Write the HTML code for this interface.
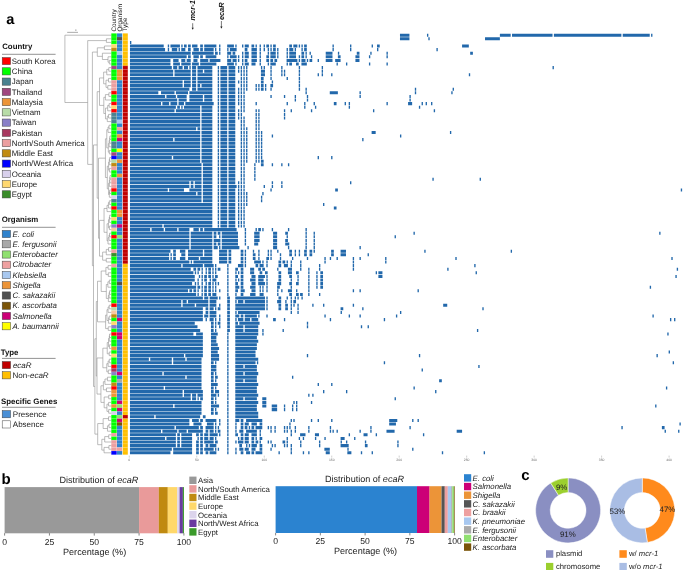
<!DOCTYPE html>
<html><head><meta charset="utf-8"><style>
html,body{margin:0;padding:0;background:#fff;width:685px;height:570px;overflow:hidden}
svg{display:block;will-change:transform;text-rendering:geometricPrecision}
</style></head><body>
<svg width="685" height="570" viewBox="0 0 685 570" font-family="'Liberation Sans', sans-serif">
<rect width="685" height="570" fill="#fff"/>
<text x="6.20" y="23.80" font-size="14.6" font-weight="bold" font-style="normal" text-anchor="start" fill="#000" >a</text>
<text x="1.60" y="483.60" font-size="15" font-weight="bold" font-style="normal" text-anchor="start" fill="#000" >b</text>
<text x="521.30" y="479.60" font-size="15" font-weight="bold" font-style="normal" text-anchor="start" fill="#000" >c</text>
<text x="2.20" y="49.40" font-size="7.85" font-weight="bold" font-style="normal" text-anchor="start" fill="#111" >Country</text>
<line x1="2" y1="54.3" x2="55.6" y2="54.3" stroke="#777" stroke-width="0.8"/>
<rect x="2.20" y="57.50" width="8.40" height="7.20" fill="#ff0000" stroke="#444" stroke-width="0.5"/>
<text x="11.80" y="63.80" font-size="7.9" font-weight="normal" font-style="normal" text-anchor="start" fill="#1a1a1a" >South Korea</text>
<rect x="2.20" y="67.75" width="8.40" height="7.20" fill="#00ff00" stroke="#444" stroke-width="0.5"/>
<text x="11.80" y="74.05" font-size="7.9" font-weight="normal" font-style="normal" text-anchor="start" fill="#1a1a1a" >China</text>
<rect x="2.20" y="78.00" width="8.40" height="7.20" fill="#4a8290" stroke="#444" stroke-width="0.5"/>
<text x="11.80" y="84.30" font-size="7.9" font-weight="normal" font-style="normal" text-anchor="start" fill="#1a1a1a" >Japan</text>
<rect x="2.20" y="88.25" width="8.40" height="7.20" fill="#a0477f" stroke="#444" stroke-width="0.5"/>
<text x="11.80" y="94.55" font-size="7.9" font-weight="normal" font-style="normal" text-anchor="start" fill="#1a1a1a" >Thailand</text>
<rect x="2.20" y="98.50" width="8.40" height="7.20" fill="#ec9438" stroke="#444" stroke-width="0.5"/>
<text x="11.80" y="104.80" font-size="7.9" font-weight="normal" font-style="normal" text-anchor="start" fill="#1a1a1a" >Malaysia</text>
<rect x="2.20" y="108.75" width="8.40" height="7.20" fill="#b8dca8" stroke="#444" stroke-width="0.5"/>
<text x="11.80" y="115.05" font-size="7.9" font-weight="normal" font-style="normal" text-anchor="start" fill="#1a1a1a" >Vietnam</text>
<rect x="2.20" y="119.00" width="8.40" height="7.20" fill="#8a80c8" stroke="#444" stroke-width="0.5"/>
<text x="11.80" y="125.30" font-size="7.9" font-weight="normal" font-style="normal" text-anchor="start" fill="#1a1a1a" >Taiwan</text>
<rect x="2.20" y="129.25" width="8.40" height="7.20" fill="#a8385f" stroke="#444" stroke-width="0.5"/>
<text x="11.80" y="135.55" font-size="7.9" font-weight="normal" font-style="normal" text-anchor="start" fill="#1a1a1a" >Pakistan</text>
<rect x="2.20" y="139.50" width="8.40" height="7.20" fill="#ec9fa0" stroke="#444" stroke-width="0.5"/>
<text x="11.80" y="145.80" font-size="7.9" font-weight="normal" font-style="normal" text-anchor="start" fill="#1a1a1a" >North/South America</text>
<rect x="2.20" y="149.75" width="8.40" height="7.20" fill="#c08a10" stroke="#444" stroke-width="0.5"/>
<text x="11.80" y="156.05" font-size="7.9" font-weight="normal" font-style="normal" text-anchor="start" fill="#1a1a1a" >Middle East</text>
<rect x="2.20" y="160.00" width="8.40" height="7.20" fill="#0000ff" stroke="#444" stroke-width="0.5"/>
<text x="11.80" y="166.30" font-size="7.9" font-weight="normal" font-style="normal" text-anchor="start" fill="#1a1a1a" >North/West Africa</text>
<rect x="2.20" y="170.25" width="8.40" height="7.20" fill="#d8d0ec" stroke="#444" stroke-width="0.5"/>
<text x="11.80" y="176.55" font-size="7.9" font-weight="normal" font-style="normal" text-anchor="start" fill="#1a1a1a" >Oceania</text>
<rect x="2.20" y="180.50" width="8.40" height="7.20" fill="#ffd870" stroke="#444" stroke-width="0.5"/>
<text x="11.80" y="186.80" font-size="7.9" font-weight="normal" font-style="normal" text-anchor="start" fill="#1a1a1a" >Europe</text>
<rect x="2.20" y="190.75" width="8.40" height="7.20" fill="#3a8c2a" stroke="#444" stroke-width="0.5"/>
<text x="11.80" y="197.05" font-size="7.9" font-weight="normal" font-style="normal" text-anchor="start" fill="#1a1a1a" >Egypt</text>
<text x="1.70" y="222.20" font-size="7.85" font-weight="bold" font-style="normal" text-anchor="start" fill="#111" >Organism</text>
<line x1="2" y1="227.3" x2="55.6" y2="227.3" stroke="#777" stroke-width="0.8"/>
<rect x="2.20" y="230.40" width="8.40" height="7.20" fill="#2f82cc" stroke="#444" stroke-width="0.5"/>
<text x="12.60" y="236.70" font-size="7.9" font-weight="normal" font-style="italic" text-anchor="start" fill="#1a1a1a" >E. coli</text>
<rect x="2.20" y="240.65" width="8.40" height="7.20" fill="#a8a8a8" stroke="#444" stroke-width="0.5"/>
<text x="12.60" y="246.95" font-size="7.9" font-weight="normal" font-style="italic" text-anchor="start" fill="#1a1a1a" >E. fergusonii</text>
<rect x="2.20" y="250.90" width="8.40" height="7.20" fill="#90e070" stroke="#444" stroke-width="0.5"/>
<text x="12.60" y="257.20" font-size="7.9" font-weight="normal" font-style="italic" text-anchor="start" fill="#1a1a1a" >Enterobacter</text>
<rect x="2.20" y="261.15" width="8.40" height="7.20" fill="#eea0a0" stroke="#444" stroke-width="0.5"/>
<text x="12.60" y="267.45" font-size="7.9" font-weight="normal" font-style="italic" text-anchor="start" fill="#1a1a1a" >Citrobacter</text>
<rect x="2.20" y="271.40" width="8.40" height="7.20" fill="#a8c8f0" stroke="#444" stroke-width="0.5"/>
<text x="12.60" y="277.70" font-size="7.9" font-weight="normal" font-style="italic" text-anchor="start" fill="#1a1a1a" >Klebsiella</text>
<rect x="2.20" y="281.65" width="8.40" height="7.20" fill="#ec9438" stroke="#444" stroke-width="0.5"/>
<text x="12.60" y="287.95" font-size="7.9" font-weight="normal" font-style="italic" text-anchor="start" fill="#1a1a1a" >Shigella</text>
<rect x="2.20" y="291.90" width="8.40" height="7.20" fill="#505050" stroke="#444" stroke-width="0.5"/>
<text x="12.60" y="298.20" font-size="7.9" font-weight="normal" font-style="italic" text-anchor="start" fill="#1a1a1a" >C. sakazakii</text>
<rect x="2.20" y="302.15" width="8.40" height="7.20" fill="#7a5408" stroke="#444" stroke-width="0.5"/>
<text x="12.60" y="308.45" font-size="7.9" font-weight="normal" font-style="italic" text-anchor="start" fill="#1a1a1a" >K. ascorbata</text>
<rect x="2.20" y="312.40" width="8.40" height="7.20" fill="#cc0077" stroke="#444" stroke-width="0.5"/>
<text x="12.60" y="318.70" font-size="7.9" font-weight="normal" font-style="italic" text-anchor="start" fill="#1a1a1a" >Salmonella</text>
<rect x="2.20" y="322.65" width="8.40" height="7.20" fill="#ffff00" stroke="#444" stroke-width="0.5"/>
<text x="12.60" y="328.95" font-size="7.9" font-weight="normal" font-style="italic" text-anchor="start" fill="#1a1a1a" >A. baumannii</text>
<text x="0.70" y="355.00" font-size="7.85" font-weight="bold" font-style="normal" text-anchor="start" fill="#111" >Type</text>
<line x1="2" y1="358.4" x2="55.6" y2="358.4" stroke="#777" stroke-width="0.8"/>
<rect x="2.20" y="361.50" width="8.40" height="7.20" fill="#c00000" stroke="#444" stroke-width="0.5"/>
<text x="12.9" y="367.8" font-size="8.0" fill="#1a1a1a"><tspan font-style="italic">ecaR</tspan></text>
<rect x="2.20" y="371.70" width="8.40" height="7.20" fill="#ffbf00" stroke="#444" stroke-width="0.5"/>
<text x="12.6" y="378.0" font-size="8.0" fill="#1a1a1a">Non-<tspan font-style="italic">ecaR</tspan></text>
<text x="1.10" y="404.10" font-size="7.85" font-weight="bold" font-style="normal" text-anchor="start" fill="#111" >Specific Genes</text>
<line x1="2" y1="407.3" x2="55.6" y2="407.3" stroke="#777" stroke-width="0.8"/>
<rect x="2.20" y="410.60" width="8.40" height="7.20" fill="#4a8fd6" stroke="#444" stroke-width="0.5"/>
<text x="12.80" y="416.90" font-size="8.0" font-weight="normal" font-style="normal" text-anchor="start" fill="#1a1a1a" >Presence</text>
<rect x="2.20" y="420.80" width="8.40" height="7.20" fill="#ffffff" stroke="#444" stroke-width="0.5"/>
<text x="12.80" y="427.10" font-size="8.0" font-weight="normal" font-style="normal" text-anchor="start" fill="#1a1a1a" >Absence</text>
<rect x="111.30" y="33.40" width="5.40" height="3.65" fill="#00ff00"/>
<rect x="117.00" y="33.40" width="5.20" height="3.65" fill="#2f82cc"/>
<rect x="122.80" y="33.40" width="5.00" height="3.65" fill="#ffbf00"/>
<rect x="111.30" y="37.00" width="5.40" height="3.65" fill="#00ff00"/>
<rect x="117.00" y="37.00" width="5.20" height="3.65" fill="#505050"/>
<rect x="122.80" y="37.00" width="5.00" height="3.65" fill="#ffbf00"/>
<rect x="111.30" y="40.60" width="5.40" height="3.65" fill="#00ff00"/>
<rect x="117.00" y="40.60" width="5.20" height="3.65" fill="#2f82cc"/>
<rect x="122.80" y="40.60" width="5.00" height="3.65" fill="#ffbf00"/>
<rect x="111.30" y="44.20" width="5.40" height="3.65" fill="#ffd870"/>
<rect x="117.00" y="44.20" width="5.20" height="3.65" fill="#2f82cc"/>
<rect x="122.80" y="44.20" width="5.00" height="3.65" fill="#ffbf00"/>
<rect x="111.30" y="47.80" width="5.40" height="3.65" fill="#c08a10"/>
<rect x="117.00" y="47.80" width="5.20" height="3.65" fill="#2f82cc"/>
<rect x="122.80" y="47.80" width="5.00" height="3.65" fill="#ffbf00"/>
<rect x="111.30" y="51.40" width="5.40" height="3.65" fill="#00ff00"/>
<rect x="117.00" y="51.40" width="5.20" height="3.65" fill="#a8c8f0"/>
<rect x="122.80" y="51.40" width="5.00" height="3.65" fill="#ffbf00"/>
<rect x="111.30" y="55.00" width="5.40" height="3.65" fill="#00ff00"/>
<rect x="117.00" y="55.00" width="5.20" height="3.65" fill="#2f82cc"/>
<rect x="122.80" y="55.00" width="5.00" height="3.65" fill="#ffbf00"/>
<rect x="111.30" y="58.60" width="5.40" height="3.65" fill="#00ff00"/>
<rect x="117.00" y="58.60" width="5.20" height="3.65" fill="#2f82cc"/>
<rect x="122.80" y="58.60" width="5.00" height="3.65" fill="#ffbf00"/>
<rect x="111.30" y="62.20" width="5.40" height="3.65" fill="#00ff00"/>
<rect x="117.00" y="62.20" width="5.20" height="3.65" fill="#2f82cc"/>
<rect x="122.80" y="62.20" width="5.00" height="3.65" fill="#ffbf00"/>
<rect x="111.30" y="65.80" width="5.40" height="3.65" fill="#a0477f"/>
<rect x="117.00" y="65.80" width="5.20" height="3.65" fill="#2f82cc"/>
<rect x="122.80" y="65.80" width="5.00" height="3.65" fill="#c00000"/>
<rect x="111.30" y="69.40" width="5.40" height="3.65" fill="#00ff00"/>
<rect x="117.00" y="69.40" width="5.20" height="3.65" fill="#ec9438"/>
<rect x="122.80" y="69.40" width="5.00" height="3.65" fill="#c00000"/>
<rect x="111.30" y="73.00" width="5.40" height="3.65" fill="#00ff00"/>
<rect x="117.00" y="73.00" width="5.20" height="3.65" fill="#ec9438"/>
<rect x="122.80" y="73.00" width="5.00" height="3.65" fill="#c00000"/>
<rect x="111.30" y="76.60" width="5.40" height="3.65" fill="#00ff00"/>
<rect x="117.00" y="76.60" width="5.20" height="3.65" fill="#ec9438"/>
<rect x="122.80" y="76.60" width="5.00" height="3.65" fill="#c00000"/>
<rect x="111.30" y="80.20" width="5.40" height="3.65" fill="#ec9fa0"/>
<rect x="117.00" y="80.20" width="5.20" height="3.65" fill="#2f82cc"/>
<rect x="122.80" y="80.20" width="5.00" height="3.65" fill="#c00000"/>
<rect x="111.30" y="83.80" width="5.40" height="3.65" fill="#ec9fa0"/>
<rect x="117.00" y="83.80" width="5.20" height="3.65" fill="#2f82cc"/>
<rect x="122.80" y="83.80" width="5.00" height="3.65" fill="#c00000"/>
<rect x="111.30" y="87.40" width="5.40" height="3.65" fill="#ec9fa0"/>
<rect x="117.00" y="87.40" width="5.20" height="3.65" fill="#2f82cc"/>
<rect x="122.80" y="87.40" width="5.00" height="3.65" fill="#c00000"/>
<rect x="111.30" y="91.00" width="5.40" height="3.65" fill="#ff0000"/>
<rect x="117.00" y="91.00" width="5.20" height="3.65" fill="#2f82cc"/>
<rect x="122.80" y="91.00" width="5.00" height="3.65" fill="#c00000"/>
<rect x="111.30" y="94.60" width="5.40" height="3.65" fill="#00ff00"/>
<rect x="117.00" y="94.60" width="5.20" height="3.65" fill="#2f82cc"/>
<rect x="122.80" y="94.60" width="5.00" height="3.65" fill="#c00000"/>
<rect x="111.30" y="98.20" width="5.40" height="3.65" fill="#00ff00"/>
<rect x="117.00" y="98.20" width="5.20" height="3.65" fill="#2f82cc"/>
<rect x="122.80" y="98.20" width="5.00" height="3.65" fill="#c00000"/>
<rect x="111.30" y="101.80" width="5.40" height="3.65" fill="#ff0000"/>
<rect x="117.00" y="101.80" width="5.20" height="3.65" fill="#2f82cc"/>
<rect x="122.80" y="101.80" width="5.00" height="3.65" fill="#c00000"/>
<rect x="111.30" y="105.40" width="5.40" height="3.65" fill="#ffd870"/>
<rect x="117.00" y="105.40" width="5.20" height="3.65" fill="#2f82cc"/>
<rect x="122.80" y="105.40" width="5.00" height="3.65" fill="#c00000"/>
<rect x="111.30" y="109.00" width="5.40" height="3.65" fill="#ff0000"/>
<rect x="117.00" y="109.00" width="5.20" height="3.65" fill="#2f82cc"/>
<rect x="122.80" y="109.00" width="5.00" height="3.65" fill="#c00000"/>
<rect x="111.30" y="112.60" width="5.40" height="3.65" fill="#4a8290"/>
<rect x="117.00" y="112.60" width="5.20" height="3.65" fill="#2f82cc"/>
<rect x="122.80" y="112.60" width="5.00" height="3.65" fill="#c00000"/>
<rect x="111.30" y="116.20" width="5.40" height="3.65" fill="#4a8290"/>
<rect x="117.00" y="116.20" width="5.20" height="3.65" fill="#2f82cc"/>
<rect x="122.80" y="116.20" width="5.00" height="3.65" fill="#c00000"/>
<rect x="111.30" y="119.80" width="5.40" height="3.65" fill="#4a8290"/>
<rect x="117.00" y="119.80" width="5.20" height="3.65" fill="#a8c8f0"/>
<rect x="122.80" y="119.80" width="5.00" height="3.65" fill="#c00000"/>
<rect x="111.30" y="123.40" width="5.40" height="3.65" fill="#00ff00"/>
<rect x="117.00" y="123.40" width="5.20" height="3.65" fill="#2f82cc"/>
<rect x="122.80" y="123.40" width="5.00" height="3.65" fill="#c00000"/>
<rect x="111.30" y="127.00" width="5.40" height="3.65" fill="#00ff00"/>
<rect x="117.00" y="127.00" width="5.20" height="3.65" fill="#eea0a0"/>
<rect x="122.80" y="127.00" width="5.00" height="3.65" fill="#c00000"/>
<rect x="111.30" y="130.60" width="5.40" height="3.65" fill="#00ff00"/>
<rect x="117.00" y="130.60" width="5.20" height="3.65" fill="#2f82cc"/>
<rect x="122.80" y="130.60" width="5.00" height="3.65" fill="#c00000"/>
<rect x="111.30" y="134.20" width="5.40" height="3.65" fill="#00ff00"/>
<rect x="117.00" y="134.20" width="5.20" height="3.65" fill="#ec9438"/>
<rect x="122.80" y="134.20" width="5.00" height="3.65" fill="#c00000"/>
<rect x="111.30" y="137.80" width="5.40" height="3.65" fill="#00ff00"/>
<rect x="117.00" y="137.80" width="5.20" height="3.65" fill="#cc0077"/>
<rect x="122.80" y="137.80" width="5.00" height="3.65" fill="#c00000"/>
<rect x="111.30" y="141.40" width="5.40" height="3.65" fill="#4a8290"/>
<rect x="117.00" y="141.40" width="5.20" height="3.65" fill="#2f82cc"/>
<rect x="122.80" y="141.40" width="5.00" height="3.65" fill="#c00000"/>
<rect x="111.30" y="145.00" width="5.40" height="3.65" fill="#4a8290"/>
<rect x="117.00" y="145.00" width="5.20" height="3.65" fill="#2f82cc"/>
<rect x="122.80" y="145.00" width="5.00" height="3.65" fill="#c00000"/>
<rect x="111.30" y="148.60" width="5.40" height="3.65" fill="#00ff00"/>
<rect x="117.00" y="148.60" width="5.20" height="3.65" fill="#ffff00"/>
<rect x="122.80" y="148.60" width="5.00" height="3.65" fill="#c00000"/>
<rect x="111.30" y="152.20" width="5.40" height="3.65" fill="#a0477f"/>
<rect x="117.00" y="152.20" width="5.20" height="3.65" fill="#2f82cc"/>
<rect x="122.80" y="152.20" width="5.00" height="3.65" fill="#c00000"/>
<rect x="111.30" y="155.80" width="5.40" height="3.65" fill="#0000ff"/>
<rect x="117.00" y="155.80" width="5.20" height="3.65" fill="#2f82cc"/>
<rect x="122.80" y="155.80" width="5.00" height="3.65" fill="#c00000"/>
<rect x="111.30" y="159.40" width="5.40" height="3.65" fill="#b8dca8"/>
<rect x="117.00" y="159.40" width="5.20" height="3.65" fill="#ec9438"/>
<rect x="122.80" y="159.40" width="5.00" height="3.65" fill="#c00000"/>
<rect x="111.30" y="163.00" width="5.40" height="3.65" fill="#c08a10"/>
<rect x="117.00" y="163.00" width="5.20" height="3.65" fill="#2f82cc"/>
<rect x="122.80" y="163.00" width="5.00" height="3.65" fill="#c00000"/>
<rect x="111.30" y="166.60" width="5.40" height="3.65" fill="#ec9fa0"/>
<rect x="117.00" y="166.60" width="5.20" height="3.65" fill="#2f82cc"/>
<rect x="122.80" y="166.60" width="5.00" height="3.65" fill="#c00000"/>
<rect x="111.30" y="170.20" width="5.40" height="3.65" fill="#00ff00"/>
<rect x="117.00" y="170.20" width="5.20" height="3.65" fill="#2f82cc"/>
<rect x="122.80" y="170.20" width="5.00" height="3.65" fill="#c00000"/>
<rect x="111.30" y="173.80" width="5.40" height="3.65" fill="#00ff00"/>
<rect x="117.00" y="173.80" width="5.20" height="3.65" fill="#ec9438"/>
<rect x="122.80" y="173.80" width="5.00" height="3.65" fill="#c00000"/>
<rect x="111.30" y="177.40" width="5.40" height="3.65" fill="#ec9fa0"/>
<rect x="117.00" y="177.40" width="5.20" height="3.65" fill="#2f82cc"/>
<rect x="122.80" y="177.40" width="5.00" height="3.65" fill="#c00000"/>
<rect x="111.30" y="181.00" width="5.40" height="3.65" fill="#ec9fa0"/>
<rect x="117.00" y="181.00" width="5.20" height="3.65" fill="#2f82cc"/>
<rect x="122.80" y="181.00" width="5.00" height="3.65" fill="#c00000"/>
<rect x="111.30" y="184.60" width="5.40" height="3.65" fill="#ec9fa0"/>
<rect x="117.00" y="184.60" width="5.20" height="3.65" fill="#2f82cc"/>
<rect x="122.80" y="184.60" width="5.00" height="3.65" fill="#c00000"/>
<rect x="111.30" y="188.20" width="5.40" height="3.65" fill="#ff0000"/>
<rect x="117.00" y="188.20" width="5.20" height="3.65" fill="#2f82cc"/>
<rect x="122.80" y="188.20" width="5.00" height="3.65" fill="#c00000"/>
<rect x="111.30" y="191.80" width="5.40" height="3.65" fill="#00ff00"/>
<rect x="117.00" y="191.80" width="5.20" height="3.65" fill="#2f82cc"/>
<rect x="122.80" y="191.80" width="5.00" height="3.65" fill="#c00000"/>
<rect x="111.30" y="195.40" width="5.40" height="3.65" fill="#d8d0ec"/>
<rect x="117.00" y="195.40" width="5.20" height="3.65" fill="#2f82cc"/>
<rect x="122.80" y="195.40" width="5.00" height="3.65" fill="#c00000"/>
<rect x="111.30" y="199.00" width="5.40" height="3.65" fill="#4a8290"/>
<rect x="117.00" y="199.00" width="5.20" height="3.65" fill="#2f82cc"/>
<rect x="122.80" y="199.00" width="5.00" height="3.65" fill="#c00000"/>
<rect x="111.30" y="202.60" width="5.40" height="3.65" fill="#00ff00"/>
<rect x="117.00" y="202.60" width="5.20" height="3.65" fill="#2f82cc"/>
<rect x="122.80" y="202.60" width="5.00" height="3.65" fill="#c00000"/>
<rect x="111.30" y="206.20" width="5.40" height="3.65" fill="#ff0000"/>
<rect x="117.00" y="206.20" width="5.20" height="3.65" fill="#2f82cc"/>
<rect x="122.80" y="206.20" width="5.00" height="3.65" fill="#c00000"/>
<rect x="111.30" y="209.80" width="5.40" height="3.65" fill="#00ff00"/>
<rect x="117.00" y="209.80" width="5.20" height="3.65" fill="#ec9438"/>
<rect x="122.80" y="209.80" width="5.00" height="3.65" fill="#c00000"/>
<rect x="111.30" y="213.40" width="5.40" height="3.65" fill="#00ff00"/>
<rect x="117.00" y="213.40" width="5.20" height="3.65" fill="#ec9438"/>
<rect x="122.80" y="213.40" width="5.00" height="3.65" fill="#c00000"/>
<rect x="111.30" y="217.00" width="5.40" height="3.65" fill="#ffd870"/>
<rect x="117.00" y="217.00" width="5.20" height="3.65" fill="#2f82cc"/>
<rect x="122.80" y="217.00" width="5.00" height="3.65" fill="#c00000"/>
<rect x="111.30" y="220.60" width="5.40" height="3.65" fill="#00ff00"/>
<rect x="117.00" y="220.60" width="5.20" height="3.65" fill="#2f82cc"/>
<rect x="122.80" y="220.60" width="5.00" height="3.65" fill="#c00000"/>
<rect x="111.30" y="224.20" width="5.40" height="3.65" fill="#8a80c8"/>
<rect x="117.00" y="224.20" width="5.20" height="3.65" fill="#cc0077"/>
<rect x="122.80" y="224.20" width="5.00" height="3.65" fill="#c00000"/>
<rect x="111.30" y="227.80" width="5.40" height="3.65" fill="#f8c8a0"/>
<rect x="117.00" y="227.80" width="5.20" height="3.65" fill="#2f82cc"/>
<rect x="122.80" y="227.80" width="5.00" height="3.65" fill="#c00000"/>
<rect x="111.30" y="231.40" width="5.40" height="3.65" fill="#00ff00"/>
<rect x="117.00" y="231.40" width="5.20" height="3.65" fill="#2f82cc"/>
<rect x="122.80" y="231.40" width="5.00" height="3.65" fill="#c00000"/>
<rect x="111.30" y="235.00" width="5.40" height="3.65" fill="#ff0000"/>
<rect x="117.00" y="235.00" width="5.20" height="3.65" fill="#90e070"/>
<rect x="122.80" y="235.00" width="5.00" height="3.65" fill="#c00000"/>
<rect x="111.30" y="238.60" width="5.40" height="3.65" fill="#00ff00"/>
<rect x="117.00" y="238.60" width="5.20" height="3.65" fill="#2f82cc"/>
<rect x="122.80" y="238.60" width="5.00" height="3.65" fill="#c00000"/>
<rect x="111.30" y="242.20" width="5.40" height="3.65" fill="#00ff00"/>
<rect x="117.00" y="242.20" width="5.20" height="3.65" fill="#2f82cc"/>
<rect x="122.80" y="242.20" width="5.00" height="3.65" fill="#c00000"/>
<rect x="111.30" y="245.80" width="5.40" height="3.65" fill="#00ff00"/>
<rect x="117.00" y="245.80" width="5.20" height="3.65" fill="#2f82cc"/>
<rect x="122.80" y="245.80" width="5.00" height="3.65" fill="#c00000"/>
<rect x="111.30" y="249.40" width="5.40" height="3.65" fill="#ec9fa0"/>
<rect x="117.00" y="249.40" width="5.20" height="3.65" fill="#2f82cc"/>
<rect x="122.80" y="249.40" width="5.00" height="3.65" fill="#c00000"/>
<rect x="111.30" y="253.00" width="5.40" height="3.65" fill="#3a8c2a"/>
<rect x="117.00" y="253.00" width="5.20" height="3.65" fill="#2f82cc"/>
<rect x="122.80" y="253.00" width="5.00" height="3.65" fill="#c00000"/>
<rect x="111.30" y="256.60" width="5.40" height="3.65" fill="#00ff00"/>
<rect x="117.00" y="256.60" width="5.20" height="3.65" fill="#2f82cc"/>
<rect x="122.80" y="256.60" width="5.00" height="3.65" fill="#c00000"/>
<rect x="111.30" y="260.20" width="5.40" height="3.65" fill="#00ff00"/>
<rect x="117.00" y="260.20" width="5.20" height="3.65" fill="#2f82cc"/>
<rect x="122.80" y="260.20" width="5.00" height="3.65" fill="#c00000"/>
<rect x="111.30" y="263.80" width="5.40" height="3.65" fill="#ec9fa0"/>
<rect x="117.00" y="263.80" width="5.20" height="3.65" fill="#2f82cc"/>
<rect x="122.80" y="263.80" width="5.00" height="3.65" fill="#ffbf00"/>
<rect x="111.30" y="267.40" width="5.40" height="3.65" fill="#00ff00"/>
<rect x="117.00" y="267.40" width="5.20" height="3.65" fill="#2f82cc"/>
<rect x="122.80" y="267.40" width="5.00" height="3.65" fill="#ffbf00"/>
<rect x="111.30" y="271.00" width="5.40" height="3.65" fill="#00ff00"/>
<rect x="117.00" y="271.00" width="5.20" height="3.65" fill="#2f82cc"/>
<rect x="122.80" y="271.00" width="5.00" height="3.65" fill="#ffbf00"/>
<rect x="111.30" y="274.60" width="5.40" height="3.65" fill="#00ff00"/>
<rect x="117.00" y="274.60" width="5.20" height="3.65" fill="#2f82cc"/>
<rect x="122.80" y="274.60" width="5.00" height="3.65" fill="#ffbf00"/>
<rect x="111.30" y="278.20" width="5.40" height="3.65" fill="#00ff00"/>
<rect x="117.00" y="278.20" width="5.20" height="3.65" fill="#2f82cc"/>
<rect x="122.80" y="278.20" width="5.00" height="3.65" fill="#ffbf00"/>
<rect x="111.30" y="281.80" width="5.40" height="3.65" fill="#00ff00"/>
<rect x="117.00" y="281.80" width="5.20" height="3.65" fill="#505050"/>
<rect x="122.80" y="281.80" width="5.00" height="3.65" fill="#ffbf00"/>
<rect x="111.30" y="285.40" width="5.40" height="3.65" fill="#00ff00"/>
<rect x="117.00" y="285.40" width="5.20" height="3.65" fill="#2f82cc"/>
<rect x="122.80" y="285.40" width="5.00" height="3.65" fill="#ffbf00"/>
<rect x="111.30" y="289.00" width="5.40" height="3.65" fill="#00ff00"/>
<rect x="117.00" y="289.00" width="5.20" height="3.65" fill="#2f82cc"/>
<rect x="122.80" y="289.00" width="5.00" height="3.65" fill="#ffbf00"/>
<rect x="111.30" y="292.60" width="5.40" height="3.65" fill="#00ff00"/>
<rect x="117.00" y="292.60" width="5.20" height="3.65" fill="#2f82cc"/>
<rect x="122.80" y="292.60" width="5.00" height="3.65" fill="#ffbf00"/>
<rect x="111.30" y="296.20" width="5.40" height="3.65" fill="#00ff00"/>
<rect x="117.00" y="296.20" width="5.20" height="3.65" fill="#2f82cc"/>
<rect x="122.80" y="296.20" width="5.00" height="3.65" fill="#ffbf00"/>
<rect x="111.30" y="299.80" width="5.40" height="3.65" fill="#00ff00"/>
<rect x="117.00" y="299.80" width="5.20" height="3.65" fill="#2f82cc"/>
<rect x="122.80" y="299.80" width="5.00" height="3.65" fill="#ffbf00"/>
<rect x="111.30" y="303.40" width="5.40" height="3.65" fill="#ff0000"/>
<rect x="117.00" y="303.40" width="5.20" height="3.65" fill="#2f82cc"/>
<rect x="122.80" y="303.40" width="5.00" height="3.65" fill="#ffbf00"/>
<rect x="111.30" y="307.00" width="5.40" height="3.65" fill="#b8dca8"/>
<rect x="117.00" y="307.00" width="5.20" height="3.65" fill="#2f82cc"/>
<rect x="122.80" y="307.00" width="5.00" height="3.65" fill="#ffbf00"/>
<rect x="111.30" y="310.60" width="5.40" height="3.65" fill="#f8c8a0"/>
<rect x="117.00" y="310.60" width="5.20" height="3.65" fill="#2f82cc"/>
<rect x="122.80" y="310.60" width="5.00" height="3.65" fill="#ffbf00"/>
<rect x="111.30" y="314.20" width="5.40" height="3.65" fill="#c08a10"/>
<rect x="117.00" y="314.20" width="5.20" height="3.65" fill="#2f82cc"/>
<rect x="122.80" y="314.20" width="5.00" height="3.65" fill="#ffbf00"/>
<rect x="111.30" y="317.80" width="5.40" height="3.65" fill="#00ff00"/>
<rect x="117.00" y="317.80" width="5.20" height="3.65" fill="#cc0077"/>
<rect x="122.80" y="317.80" width="5.00" height="3.65" fill="#ffbf00"/>
<rect x="111.30" y="321.40" width="5.40" height="3.65" fill="#ffd870"/>
<rect x="117.00" y="321.40" width="5.20" height="3.65" fill="#2f82cc"/>
<rect x="122.80" y="321.40" width="5.00" height="3.65" fill="#ffbf00"/>
<rect x="111.30" y="325.00" width="5.40" height="3.65" fill="#8a80c8"/>
<rect x="117.00" y="325.00" width="5.20" height="3.65" fill="#2f82cc"/>
<rect x="122.80" y="325.00" width="5.00" height="3.65" fill="#ffbf00"/>
<rect x="111.30" y="328.60" width="5.40" height="3.65" fill="#00ff00"/>
<rect x="117.00" y="328.60" width="5.20" height="3.65" fill="#2f82cc"/>
<rect x="122.80" y="328.60" width="5.00" height="3.65" fill="#ffbf00"/>
<rect x="111.30" y="332.20" width="5.40" height="3.65" fill="#ff0000"/>
<rect x="117.00" y="332.20" width="5.20" height="3.65" fill="#cc0077"/>
<rect x="122.80" y="332.20" width="5.00" height="3.65" fill="#ffbf00"/>
<rect x="111.30" y="335.80" width="5.40" height="3.65" fill="#00ff00"/>
<rect x="117.00" y="335.80" width="5.20" height="3.65" fill="#cc0077"/>
<rect x="122.80" y="335.80" width="5.00" height="3.65" fill="#ffbf00"/>
<rect x="111.30" y="339.40" width="5.40" height="3.65" fill="#00ff00"/>
<rect x="117.00" y="339.40" width="5.20" height="3.65" fill="#2f82cc"/>
<rect x="122.80" y="339.40" width="5.00" height="3.65" fill="#ffbf00"/>
<rect x="111.30" y="343.00" width="5.40" height="3.65" fill="#00ff00"/>
<rect x="117.00" y="343.00" width="5.20" height="3.65" fill="#2f82cc"/>
<rect x="122.80" y="343.00" width="5.00" height="3.65" fill="#ffbf00"/>
<rect x="111.30" y="346.60" width="5.40" height="3.65" fill="#ec9438"/>
<rect x="117.00" y="346.60" width="5.20" height="3.65" fill="#2f82cc"/>
<rect x="122.80" y="346.60" width="5.00" height="3.65" fill="#ffbf00"/>
<rect x="111.30" y="350.20" width="5.40" height="3.65" fill="#00ff00"/>
<rect x="117.00" y="350.20" width="5.20" height="3.65" fill="#2f82cc"/>
<rect x="122.80" y="350.20" width="5.00" height="3.65" fill="#ffbf00"/>
<rect x="111.30" y="353.80" width="5.40" height="3.65" fill="#ffd870"/>
<rect x="117.00" y="353.80" width="5.20" height="3.65" fill="#2f82cc"/>
<rect x="122.80" y="353.80" width="5.00" height="3.65" fill="#ffbf00"/>
<rect x="111.30" y="357.40" width="5.40" height="3.65" fill="#00ff00"/>
<rect x="117.00" y="357.40" width="5.20" height="3.65" fill="#2f82cc"/>
<rect x="122.80" y="357.40" width="5.00" height="3.65" fill="#ffbf00"/>
<rect x="111.30" y="361.00" width="5.40" height="3.65" fill="#00ff00"/>
<rect x="117.00" y="361.00" width="5.20" height="3.65" fill="#2f82cc"/>
<rect x="122.80" y="361.00" width="5.00" height="3.65" fill="#ffbf00"/>
<rect x="111.30" y="364.60" width="5.40" height="3.65" fill="#ff0000"/>
<rect x="117.00" y="364.60" width="5.20" height="3.65" fill="#2f82cc"/>
<rect x="122.80" y="364.60" width="5.00" height="3.65" fill="#ffbf00"/>
<rect x="111.30" y="368.20" width="5.40" height="3.65" fill="#a8385f"/>
<rect x="117.00" y="368.20" width="5.20" height="3.65" fill="#2f82cc"/>
<rect x="122.80" y="368.20" width="5.00" height="3.65" fill="#ffbf00"/>
<rect x="111.30" y="371.80" width="5.40" height="3.65" fill="#8a80c8"/>
<rect x="117.00" y="371.80" width="5.20" height="3.65" fill="#cc0077"/>
<rect x="122.80" y="371.80" width="5.00" height="3.65" fill="#ffbf00"/>
<rect x="111.30" y="375.40" width="5.40" height="3.65" fill="#00ff00"/>
<rect x="117.00" y="375.40" width="5.20" height="3.65" fill="#2f82cc"/>
<rect x="122.80" y="375.40" width="5.00" height="3.65" fill="#ffbf00"/>
<rect x="111.30" y="379.00" width="5.40" height="3.65" fill="#00ff00"/>
<rect x="117.00" y="379.00" width="5.20" height="3.65" fill="#a8a8a8"/>
<rect x="122.80" y="379.00" width="5.00" height="3.65" fill="#ffbf00"/>
<rect x="111.30" y="382.60" width="5.40" height="3.65" fill="#c08a10"/>
<rect x="117.00" y="382.60" width="5.20" height="3.65" fill="#2f82cc"/>
<rect x="122.80" y="382.60" width="5.00" height="3.65" fill="#ffbf00"/>
<rect x="111.30" y="386.20" width="5.40" height="3.65" fill="#ff0000"/>
<rect x="117.00" y="386.20" width="5.20" height="3.65" fill="#2f82cc"/>
<rect x="122.80" y="386.20" width="5.00" height="3.65" fill="#ffbf00"/>
<rect x="111.30" y="389.80" width="5.40" height="3.65" fill="#ec9438"/>
<rect x="117.00" y="389.80" width="5.20" height="3.65" fill="#2f82cc"/>
<rect x="122.80" y="389.80" width="5.00" height="3.65" fill="#ffbf00"/>
<rect x="111.30" y="393.40" width="5.40" height="3.65" fill="#ec9438"/>
<rect x="117.00" y="393.40" width="5.20" height="3.65" fill="#2f82cc"/>
<rect x="122.80" y="393.40" width="5.00" height="3.65" fill="#ffbf00"/>
<rect x="111.30" y="397.00" width="5.40" height="3.65" fill="#00ff00"/>
<rect x="117.00" y="397.00" width="5.20" height="3.65" fill="#2f82cc"/>
<rect x="122.80" y="397.00" width="5.00" height="3.65" fill="#ffbf00"/>
<rect x="111.30" y="400.60" width="5.40" height="3.65" fill="#00ff00"/>
<rect x="117.00" y="400.60" width="5.20" height="3.65" fill="#cc0077"/>
<rect x="122.80" y="400.60" width="5.00" height="3.65" fill="#ffbf00"/>
<rect x="111.30" y="404.20" width="5.40" height="3.65" fill="#ec9438"/>
<rect x="117.00" y="404.20" width="5.20" height="3.65" fill="#90e070"/>
<rect x="122.80" y="404.20" width="5.00" height="3.65" fill="#ffbf00"/>
<rect x="111.30" y="407.80" width="5.40" height="3.65" fill="#00ff00"/>
<rect x="117.00" y="407.80" width="5.20" height="3.65" fill="#cc0077"/>
<rect x="122.80" y="407.80" width="5.00" height="3.65" fill="#ffbf00"/>
<rect x="111.30" y="411.40" width="5.40" height="3.65" fill="#d8d0ec"/>
<rect x="117.00" y="411.40" width="5.20" height="3.65" fill="#2f82cc"/>
<rect x="122.80" y="411.40" width="5.00" height="3.65" fill="#ffbf00"/>
<rect x="111.30" y="415.00" width="5.40" height="3.65" fill="#00ff00"/>
<rect x="117.00" y="415.00" width="5.20" height="3.65" fill="#90e070"/>
<rect x="122.80" y="415.00" width="5.00" height="3.65" fill="#c00000"/>
<rect x="111.30" y="418.60" width="5.40" height="3.65" fill="#00ff00"/>
<rect x="117.00" y="418.60" width="5.20" height="3.65" fill="#cc0077"/>
<rect x="122.80" y="418.60" width="5.00" height="3.65" fill="#ffbf00"/>
<rect x="111.30" y="422.20" width="5.40" height="3.65" fill="#00ff00"/>
<rect x="117.00" y="422.20" width="5.20" height="3.65" fill="#7a5408"/>
<rect x="122.80" y="422.20" width="5.00" height="3.65" fill="#ffbf00"/>
<rect x="111.30" y="425.80" width="5.40" height="3.65" fill="#00ff00"/>
<rect x="117.00" y="425.80" width="5.20" height="3.65" fill="#2f82cc"/>
<rect x="122.80" y="425.80" width="5.00" height="3.65" fill="#ffbf00"/>
<rect x="111.30" y="429.40" width="5.40" height="3.65" fill="#00ff00"/>
<rect x="117.00" y="429.40" width="5.20" height="3.65" fill="#2f82cc"/>
<rect x="122.80" y="429.40" width="5.00" height="3.65" fill="#ffbf00"/>
<rect x="111.30" y="433.00" width="5.40" height="3.65" fill="#ec9fa0"/>
<rect x="117.00" y="433.00" width="5.20" height="3.65" fill="#2f82cc"/>
<rect x="122.80" y="433.00" width="5.00" height="3.65" fill="#ffbf00"/>
<rect x="111.30" y="436.60" width="5.40" height="3.65" fill="#00ff00"/>
<rect x="117.00" y="436.60" width="5.20" height="3.65" fill="#2f82cc"/>
<rect x="122.80" y="436.60" width="5.00" height="3.65" fill="#ffbf00"/>
<rect x="111.30" y="440.20" width="5.40" height="3.65" fill="#ec9fa0"/>
<rect x="117.00" y="440.20" width="5.20" height="3.65" fill="#2f82cc"/>
<rect x="122.80" y="440.20" width="5.00" height="3.65" fill="#ffbf00"/>
<rect x="111.30" y="443.80" width="5.40" height="3.65" fill="#ec9fa0"/>
<rect x="117.00" y="443.80" width="5.20" height="3.65" fill="#2f82cc"/>
<rect x="122.80" y="443.80" width="5.00" height="3.65" fill="#ffbf00"/>
<rect x="111.30" y="447.40" width="5.40" height="3.65" fill="#ec9fa0"/>
<rect x="117.00" y="447.40" width="5.20" height="3.65" fill="#eea0a0"/>
<rect x="122.80" y="447.40" width="5.00" height="3.65" fill="#ffbf00"/>
<rect x="111.30" y="451.00" width="5.40" height="3.65" fill="#0000ff"/>
<rect x="117.00" y="451.00" width="5.20" height="3.65" fill="#2f82cc"/>
<rect x="122.80" y="451.00" width="5.00" height="3.65" fill="#ffbf00"/>
<path d="M111.3 37.00h16.5M111.3 40.60h16.5M111.3 44.20h16.5M111.3 47.80h16.5M111.3 51.40h16.5M111.3 55.00h16.5M111.3 58.60h16.5M111.3 62.20h16.5M111.3 65.80h16.5M111.3 69.40h16.5M111.3 73.00h16.5M111.3 76.60h16.5M111.3 80.20h16.5M111.3 83.80h16.5M111.3 87.40h16.5M111.3 91.00h16.5M111.3 94.60h16.5M111.3 98.20h16.5M111.3 101.80h16.5M111.3 105.40h16.5M111.3 109.00h16.5M111.3 112.60h16.5M111.3 116.20h16.5M111.3 119.80h16.5M111.3 123.40h16.5M111.3 127.00h16.5M111.3 130.60h16.5M111.3 134.20h16.5M111.3 137.80h16.5M111.3 141.40h16.5M111.3 145.00h16.5M111.3 148.60h16.5M111.3 152.20h16.5M111.3 155.80h16.5M111.3 159.40h16.5M111.3 163.00h16.5M111.3 166.60h16.5M111.3 170.20h16.5M111.3 173.80h16.5M111.3 177.40h16.5M111.3 181.00h16.5M111.3 184.60h16.5M111.3 188.20h16.5M111.3 191.80h16.5M111.3 195.40h16.5M111.3 199.00h16.5M111.3 202.60h16.5M111.3 206.20h16.5M111.3 209.80h16.5M111.3 213.40h16.5M111.3 217.00h16.5M111.3 220.60h16.5M111.3 224.20h16.5M111.3 227.80h16.5M111.3 231.40h16.5M111.3 235.00h16.5M111.3 238.60h16.5M111.3 242.20h16.5M111.3 245.80h16.5M111.3 249.40h16.5M111.3 253.00h16.5M111.3 256.60h16.5M111.3 260.20h16.5M111.3 263.80h16.5M111.3 267.40h16.5M111.3 271.00h16.5M111.3 274.60h16.5M111.3 278.20h16.5M111.3 281.80h16.5M111.3 285.40h16.5M111.3 289.00h16.5M111.3 292.60h16.5M111.3 296.20h16.5M111.3 299.80h16.5M111.3 303.40h16.5M111.3 307.00h16.5M111.3 310.60h16.5M111.3 314.20h16.5M111.3 317.80h16.5M111.3 321.40h16.5M111.3 325.00h16.5M111.3 328.60h16.5M111.3 332.20h16.5M111.3 335.80h16.5M111.3 339.40h16.5M111.3 343.00h16.5M111.3 346.60h16.5M111.3 350.20h16.5M111.3 353.80h16.5M111.3 357.40h16.5M111.3 361.00h16.5M111.3 364.60h16.5M111.3 368.20h16.5M111.3 371.80h16.5M111.3 375.40h16.5M111.3 379.00h16.5M111.3 382.60h16.5M111.3 386.20h16.5M111.3 389.80h16.5M111.3 393.40h16.5M111.3 397.00h16.5M111.3 400.60h16.5M111.3 404.20h16.5M111.3 407.80h16.5M111.3 411.40h16.5M111.3 415.00h16.5M111.3 418.60h16.5M111.3 422.20h16.5M111.3 425.80h16.5M111.3 429.40h16.5M111.3 433.00h16.5M111.3 436.60h16.5M111.3 440.20h16.5M111.3 443.80h16.5M111.3 447.40h16.5M111.3 451.00h16.5" stroke="#ffffff" stroke-opacity="0.28" stroke-width="0.5"/>
<text transform="translate(115.6,31.6) rotate(-90)" font-size="6.4" fill="#111">Country</text>
<text transform="translate(121.7,31.6) rotate(-90)" font-size="6.4" fill="#111">Organism</text>
<text transform="translate(127.1,31.6) rotate(-90)" font-size="6.4" fill="#111">Type</text>
<text transform="translate(195.3,20.6) rotate(-90)" font-size="7.5" font-weight="bold" font-style="italic" fill="#111">mcr-1</text>
<text transform="translate(223.9,20.1) rotate(-90)" font-size="7.4" font-weight="bold" font-style="italic" fill="#111">ecaR</text>
<line x1="192.7" y1="23.2" x2="192.7" y2="29.4" stroke="#222" stroke-width="0.6"/>
<path d="M191.6 27.799999999999997L192.7 29.599999999999998L193.79999999999998 27.799999999999997z" fill="#222"/>
<line x1="221.4" y1="21.0" x2="221.4" y2="28.2" stroke="#222" stroke-width="0.6"/>
<path d="M220.3 26.599999999999998L221.4 28.4L222.5 26.599999999999998z" fill="#222"/>
<path d="M399.98 33.68h9.45v3.05h-9.45zM426.98 33.68h1.35v3.05h-1.35zM499.88 33.68h10.80v3.05h-10.80zM512.02 33.68h40.50v3.05h-40.50zM553.88 33.68h67.50v3.05h-67.50zM622.73 33.68h27.00v3.05h-27.00zM651.08 33.68h1.35v3.05h-1.35zM399.98 37.28h9.45v3.05h-9.45zM428.33 37.28h1.35v3.05h-1.35zM485.02 37.28h14.85v3.05h-14.85zM129.97 40.88h1.35v3.05h-1.35zM129.97 44.48h33.75v3.05h-33.75zM167.78 44.48h1.35v3.05h-1.35zM170.47 44.48h9.45v3.05h-9.45zM181.28 44.48h1.35v3.05h-1.35zM183.97 44.48h2.70v3.05h-2.70zM188.03 44.48h2.70v3.05h-2.70zM192.07 44.48h5.40v3.05h-5.40zM200.18 44.48h2.70v3.05h-2.70zM204.22 44.48h12.15v3.05h-12.15zM219.07 44.48h1.35v3.05h-1.35zM227.18 44.48h6.75v3.05h-6.75zM235.28 44.48h1.35v3.05h-1.35zM242.03 44.48h1.35v3.05h-1.35zM244.73 44.48h4.05v3.05h-4.05zM251.48 44.48h2.70v3.05h-2.70zM255.53 44.48h1.35v3.05h-1.35zM259.58 44.48h1.35v3.05h-1.35zM263.62 44.48h1.35v3.05h-1.35zM266.33 44.48h2.70v3.05h-2.70zM270.38 44.48h1.35v3.05h-1.35zM273.08 44.48h2.70v3.05h-2.70zM289.27 44.48h2.70v3.05h-2.70zM293.33 44.48h4.05v3.05h-4.05zM298.73 44.48h1.35v3.05h-1.35zM301.43 44.48h1.35v3.05h-1.35zM304.12 44.48h2.70v3.05h-2.70zM332.48 44.48h1.35v3.05h-1.35zM350.02 44.48h1.35v3.05h-1.35zM371.62 44.48h1.35v3.05h-1.35zM377.02 44.48h2.70v3.05h-2.70zM462.08 44.48h6.75v3.05h-6.75zM129.97 48.08h35.10v3.05h-35.10zM167.78 48.08h1.35v3.05h-1.35zM171.82 48.08h5.40v3.05h-5.40zM178.57 48.08h1.35v3.05h-1.35zM181.28 48.08h4.05v3.05h-4.05zM188.03 48.08h2.70v3.05h-2.70zM193.43 48.08h5.40v3.05h-5.40zM200.18 48.08h2.70v3.05h-2.70zM204.22 48.08h9.45v3.05h-9.45zM215.03 48.08h1.35v3.05h-1.35zM219.07 48.08h1.35v3.05h-1.35zM227.18 48.08h1.35v3.05h-1.35zM229.88 48.08h6.75v3.05h-6.75zM244.73 48.08h2.70v3.05h-2.70zM251.48 48.08h5.40v3.05h-5.40zM259.58 48.08h1.35v3.05h-1.35zM263.62 48.08h1.35v3.05h-1.35zM267.68 48.08h1.35v3.05h-1.35zM270.38 48.08h1.35v3.05h-1.35zM273.08 48.08h2.70v3.05h-2.70zM277.12 48.08h1.35v3.05h-1.35zM286.58 48.08h1.35v3.05h-1.35zM289.27 48.08h4.05v3.05h-4.05zM294.68 48.08h1.35v3.05h-1.35zM301.43 48.08h1.35v3.05h-1.35zM304.12 48.08h2.70v3.05h-2.70zM332.48 48.08h1.35v3.05h-1.35zM350.02 48.08h1.35v3.05h-1.35zM377.02 48.08h1.35v3.05h-1.35zM436.43 48.08h1.35v3.05h-1.35zM129.97 51.68h60.75v3.05h-60.75zM192.07 51.68h21.60v3.05h-21.60zM215.03 51.68h2.70v3.05h-2.70zM219.07 51.68h1.35v3.05h-1.35zM227.18 51.68h4.05v3.05h-4.05zM232.57 51.68h2.70v3.05h-2.70zM242.03 51.68h1.35v3.05h-1.35zM244.73 51.68h4.05v3.05h-4.05zM251.48 51.68h5.40v3.05h-5.40zM259.58 51.68h1.35v3.05h-1.35zM267.68 51.68h1.35v3.05h-1.35zM270.38 51.68h5.40v3.05h-5.40zM277.12 51.68h1.35v3.05h-1.35zM286.58 51.68h1.35v3.05h-1.35zM289.27 51.68h6.75v3.05h-6.75zM301.43 51.68h2.70v3.05h-2.70zM305.48 51.68h1.35v3.05h-1.35zM309.52 51.68h1.35v3.05h-1.35zM325.73 51.68h6.75v3.05h-6.75zM337.88 51.68h1.35v3.05h-1.35zM356.77 51.68h2.70v3.05h-2.70zM370.27 51.68h1.35v3.05h-1.35zM386.48 51.68h1.35v3.05h-1.35zM470.18 51.68h2.70v3.05h-2.70zM129.97 55.28h56.70v3.05h-56.70zM188.03 55.28h2.70v3.05h-2.70zM193.43 55.28h5.40v3.05h-5.40zM200.18 55.28h2.70v3.05h-2.70zM205.57 55.28h10.80v3.05h-10.80zM227.18 55.28h1.35v3.05h-1.35zM229.88 55.28h6.75v3.05h-6.75zM237.97 55.28h1.35v3.05h-1.35zM242.03 55.28h1.35v3.05h-1.35zM244.73 55.28h4.05v3.05h-4.05zM251.48 55.28h5.40v3.05h-5.40zM259.58 55.28h1.35v3.05h-1.35zM266.33 55.28h2.70v3.05h-2.70zM270.38 55.28h5.40v3.05h-5.40zM277.12 55.28h1.35v3.05h-1.35zM286.58 55.28h1.35v3.05h-1.35zM289.27 55.28h6.75v3.05h-6.75zM298.73 55.28h1.35v3.05h-1.35zM301.43 55.28h2.70v3.05h-2.70zM305.48 55.28h1.35v3.05h-1.35zM310.88 55.28h1.35v3.05h-1.35zM325.73 55.28h6.75v3.05h-6.75zM337.88 55.28h2.70v3.05h-2.70zM355.43 55.28h4.05v3.05h-4.05zM368.93 55.28h1.35v3.05h-1.35zM386.48 55.28h1.35v3.05h-1.35zM129.97 58.88h40.50v3.05h-40.50zM173.18 58.88h5.40v3.05h-5.40zM181.28 58.88h4.05v3.05h-4.05zM186.68 58.88h4.05v3.05h-4.05zM193.43 58.88h4.05v3.05h-4.05zM200.18 58.88h8.10v3.05h-8.10zM209.62 58.88h10.80v3.05h-10.80zM227.18 58.88h4.05v3.05h-4.05zM232.57 58.88h4.05v3.05h-4.05zM237.97 58.88h1.35v3.05h-1.35zM242.03 58.88h1.35v3.05h-1.35zM244.73 58.88h2.70v3.05h-2.70zM251.48 58.88h5.40v3.05h-5.40zM259.58 58.88h1.35v3.05h-1.35zM266.33 58.88h2.70v3.05h-2.70zM270.38 58.88h2.70v3.05h-2.70zM274.43 58.88h2.70v3.05h-2.70zM286.58 58.88h10.80v3.05h-10.80zM298.73 58.88h1.35v3.05h-1.35zM301.43 58.88h4.05v3.05h-4.05zM306.83 58.88h1.35v3.05h-1.35zM309.52 58.88h2.70v3.05h-2.70zM317.62 58.88h1.35v3.05h-1.35zM325.73 58.88h6.75v3.05h-6.75zM335.18 58.88h5.40v3.05h-5.40zM355.43 58.88h4.05v3.05h-4.05zM129.97 62.48h40.50v3.05h-40.50zM173.18 62.48h6.75v3.05h-6.75zM181.28 62.48h9.45v3.05h-9.45zM192.07 62.48h6.75v3.05h-6.75zM200.18 62.48h16.20v3.05h-16.20zM227.18 62.48h6.75v3.05h-6.75zM235.28 62.48h1.35v3.05h-1.35zM242.03 62.48h1.35v3.05h-1.35zM244.73 62.48h4.05v3.05h-4.05zM251.48 62.48h4.05v3.05h-4.05zM259.58 62.48h1.35v3.05h-1.35zM267.68 62.48h1.35v3.05h-1.35zM270.38 62.48h5.40v3.05h-5.40zM286.58 62.48h1.35v3.05h-1.35zM289.27 62.48h2.70v3.05h-2.70zM296.02 62.48h2.70v3.05h-2.70zM301.43 62.48h5.40v3.05h-5.40zM336.52 62.48h1.35v3.05h-1.35zM345.98 62.48h1.35v3.05h-1.35zM368.93 62.48h1.35v3.05h-1.35zM386.48 62.48h1.35v3.05h-1.35zM129.97 66.08h41.85v3.05h-41.85zM173.18 66.08h4.05v3.05h-4.05zM178.57 66.08h4.05v3.05h-4.05zM183.97 66.08h4.05v3.05h-4.05zM189.38 66.08h1.35v3.05h-1.35zM192.07 66.08h4.05v3.05h-4.05zM197.47 66.08h14.85v3.05h-14.85zM217.72 66.08h1.35v3.05h-1.35zM220.43 66.08h6.75v3.05h-6.75zM228.53 66.08h6.75v3.05h-6.75zM237.97 66.08h1.35v3.05h-1.35zM240.68 66.08h1.35v3.05h-1.35zM243.38 66.08h1.35v3.05h-1.35zM246.07 66.08h1.35v3.05h-1.35zM260.93 66.08h1.35v3.05h-1.35zM263.62 66.08h1.35v3.05h-1.35zM270.38 66.08h1.35v3.05h-1.35zM281.18 66.08h1.35v3.05h-1.35zM298.73 66.08h1.35v3.05h-1.35zM321.68 66.08h1.35v3.05h-1.35zM552.52 66.08h1.35v3.05h-1.35zM129.97 69.68h43.20v3.05h-43.20zM174.53 69.68h16.20v3.05h-16.20zM192.07 69.68h4.05v3.05h-4.05zM197.47 69.68h5.40v3.05h-5.40zM204.22 69.68h8.10v3.05h-8.10zM217.72 69.68h1.35v3.05h-1.35zM220.43 69.68h6.75v3.05h-6.75zM228.53 69.68h6.75v3.05h-6.75zM237.97 69.68h1.35v3.05h-1.35zM240.68 69.68h1.35v3.05h-1.35zM243.38 69.68h1.35v3.05h-1.35zM246.07 69.68h1.35v3.05h-1.35zM260.93 69.68h4.05v3.05h-4.05zM270.38 69.68h1.35v3.05h-1.35zM281.18 69.68h1.35v3.05h-1.35zM283.88 69.68h1.35v3.05h-1.35zM298.73 69.68h1.35v3.05h-1.35zM321.68 69.68h1.35v3.05h-1.35zM129.97 73.28h43.20v3.05h-43.20zM174.53 73.28h16.20v3.05h-16.20zM192.07 73.28h4.05v3.05h-4.05zM197.47 73.28h14.85v3.05h-14.85zM217.72 73.28h1.35v3.05h-1.35zM220.43 73.28h6.75v3.05h-6.75zM228.53 73.28h6.75v3.05h-6.75zM240.68 73.28h1.35v3.05h-1.35zM243.38 73.28h1.35v3.05h-1.35zM246.07 73.28h1.35v3.05h-1.35zM260.93 73.28h4.05v3.05h-4.05zM270.38 73.28h1.35v3.05h-1.35zM281.18 73.28h1.35v3.05h-1.35zM283.88 73.28h1.35v3.05h-1.35zM298.73 73.28h1.35v3.05h-1.35zM317.62 73.28h1.35v3.05h-1.35zM321.68 73.28h1.35v3.05h-1.35zM331.12 73.28h1.35v3.05h-1.35zM468.83 73.28h1.35v3.05h-1.35zM129.97 76.88h60.75v3.05h-60.75zM192.07 76.88h4.05v3.05h-4.05zM197.47 76.88h14.85v3.05h-14.85zM217.72 76.88h1.35v3.05h-1.35zM220.43 76.88h6.75v3.05h-6.75zM228.53 76.88h6.75v3.05h-6.75zM240.68 76.88h1.35v3.05h-1.35zM243.38 76.88h1.35v3.05h-1.35zM246.07 76.88h1.35v3.05h-1.35zM260.93 76.88h2.70v3.05h-2.70zM270.38 76.88h1.35v3.05h-1.35zM286.58 76.88h1.35v3.05h-1.35zM298.73 76.88h1.35v3.05h-1.35zM129.97 80.48h52.65v3.05h-52.65zM183.97 80.48h6.75v3.05h-6.75zM192.07 80.48h4.05v3.05h-4.05zM197.47 80.48h14.85v3.05h-14.85zM217.72 80.48h1.35v3.05h-1.35zM220.43 80.48h6.75v3.05h-6.75zM228.53 80.48h6.75v3.05h-6.75zM237.97 80.48h1.35v3.05h-1.35zM240.68 80.48h1.35v3.05h-1.35zM243.38 80.48h1.35v3.05h-1.35zM246.07 80.48h1.35v3.05h-1.35zM260.93 80.48h2.70v3.05h-2.70zM271.73 80.48h1.35v3.05h-1.35zM298.73 80.48h1.35v3.05h-1.35zM129.97 84.08h52.65v3.05h-52.65zM183.97 84.08h6.75v3.05h-6.75zM192.07 84.08h4.05v3.05h-4.05zM197.47 84.08h2.70v3.05h-2.70zM201.53 84.08h10.80v3.05h-10.80zM217.72 84.08h1.35v3.05h-1.35zM220.43 84.08h6.75v3.05h-6.75zM228.53 84.08h6.75v3.05h-6.75zM240.68 84.08h1.35v3.05h-1.35zM243.38 84.08h1.35v3.05h-1.35zM246.07 84.08h1.35v3.05h-1.35zM255.53 84.08h1.35v3.05h-1.35zM258.23 84.08h1.35v3.05h-1.35zM260.93 84.08h2.70v3.05h-2.70zM264.98 84.08h1.35v3.05h-1.35zM270.38 84.08h2.70v3.05h-2.70zM298.73 84.08h1.35v3.05h-1.35zM129.97 87.68h59.40v3.05h-59.40zM192.07 87.68h4.05v3.05h-4.05zM197.47 87.68h14.85v3.05h-14.85zM217.72 87.68h1.35v3.05h-1.35zM220.43 87.68h6.75v3.05h-6.75zM228.53 87.68h6.75v3.05h-6.75zM237.97 87.68h1.35v3.05h-1.35zM240.68 87.68h1.35v3.05h-1.35zM243.38 87.68h1.35v3.05h-1.35zM246.07 87.68h1.35v3.05h-1.35zM255.53 87.68h1.35v3.05h-1.35zM258.23 87.68h1.35v3.05h-1.35zM260.93 87.68h2.70v3.05h-2.70zM264.98 87.68h1.35v3.05h-1.35zM270.38 87.68h1.35v3.05h-1.35zM298.73 87.68h1.35v3.05h-1.35zM305.48 87.68h1.35v3.05h-1.35zM414.83 87.68h1.35v3.05h-1.35zM452.62 87.68h1.35v3.05h-1.35zM129.97 91.28h28.35v3.05h-28.35zM161.03 91.28h13.50v3.05h-13.50zM175.88 91.28h12.15v3.05h-12.15zM189.38 91.28h22.95v3.05h-22.95zM217.72 91.28h1.35v3.05h-1.35zM220.43 91.28h6.75v3.05h-6.75zM228.53 91.28h6.75v3.05h-6.75zM237.97 91.28h1.35v3.05h-1.35zM240.68 91.28h1.35v3.05h-1.35zM243.38 91.28h1.35v3.05h-1.35zM305.48 91.28h1.35v3.05h-1.35zM329.77 91.28h8.10v3.05h-8.10zM359.48 91.28h1.35v3.05h-1.35zM414.83 91.28h1.35v3.05h-1.35zM451.27 91.28h1.35v3.05h-1.35zM129.97 94.88h35.10v3.05h-35.10zM166.43 94.88h9.45v3.05h-9.45zM177.22 94.88h9.45v3.05h-9.45zM189.38 94.88h13.50v3.05h-13.50zM204.22 94.88h8.10v3.05h-8.10zM217.72 94.88h1.35v3.05h-1.35zM220.43 94.88h6.75v3.05h-6.75zM228.53 94.88h6.75v3.05h-6.75zM237.97 94.88h1.35v3.05h-1.35zM240.68 94.88h1.35v3.05h-1.35zM243.38 94.88h1.35v3.05h-1.35zM270.38 94.88h1.35v3.05h-1.35zM283.88 94.88h1.35v3.05h-1.35zM294.68 94.88h1.35v3.05h-1.35zM306.83 94.88h1.35v3.05h-1.35zM359.48 94.88h1.35v3.05h-1.35zM409.43 94.88h1.35v3.05h-1.35zM129.97 98.48h47.25v3.05h-47.25zM178.57 98.48h8.10v3.05h-8.10zM189.38 98.48h13.50v3.05h-13.50zM204.22 98.48h8.10v3.05h-8.10zM217.72 98.48h1.35v3.05h-1.35zM220.43 98.48h6.75v3.05h-6.75zM228.53 98.48h6.75v3.05h-6.75zM237.97 98.48h1.35v3.05h-1.35zM240.68 98.48h1.35v3.05h-1.35zM243.38 98.48h1.35v3.05h-1.35zM294.68 98.48h1.35v3.05h-1.35zM306.83 98.48h1.35v3.05h-1.35zM409.43 98.48h1.35v3.05h-1.35zM129.97 102.08h31.05v3.05h-31.05zM162.38 102.08h6.75v3.05h-6.75zM170.47 102.08h6.75v3.05h-6.75zM178.57 102.08h5.40v3.05h-5.40zM185.32 102.08h28.35v3.05h-28.35zM217.72 102.08h1.35v3.05h-1.35zM220.43 102.08h6.75v3.05h-6.75zM228.53 102.08h6.75v3.05h-6.75zM237.97 102.08h1.35v3.05h-1.35zM240.68 102.08h1.35v3.05h-1.35zM243.38 102.08h1.35v3.05h-1.35zM255.53 102.08h1.35v3.05h-1.35zM286.58 102.08h1.35v3.05h-1.35zM304.12 102.08h1.35v3.05h-1.35zM313.58 102.08h1.35v3.05h-1.35zM333.83 102.08h2.70v3.05h-2.70zM344.62 102.08h1.35v3.05h-1.35zM348.68 102.08h1.35v3.05h-1.35zM386.48 102.08h1.35v3.05h-1.35zM408.08 102.08h4.05v3.05h-4.05zM421.58 102.08h1.35v3.05h-1.35zM425.62 102.08h1.35v3.05h-1.35zM431.02 102.08h1.35v3.05h-1.35zM129.97 105.68h45.90v3.05h-45.90zM177.22 105.68h2.70v3.05h-2.70zM181.28 105.68h1.35v3.05h-1.35zM183.97 105.68h16.20v3.05h-16.20zM201.53 105.68h10.80v3.05h-10.80zM217.72 105.68h1.35v3.05h-1.35zM220.43 105.68h6.75v3.05h-6.75zM228.53 105.68h6.75v3.05h-6.75zM240.68 105.68h1.35v3.05h-1.35zM243.38 105.68h1.35v3.05h-1.35zM304.12 105.68h1.35v3.05h-1.35zM314.93 105.68h1.35v3.05h-1.35zM348.68 105.68h1.35v3.05h-1.35zM418.88 105.68h1.35v3.05h-1.35zM129.97 109.28h44.55v3.05h-44.55zM175.88 109.28h24.30v3.05h-24.30zM201.53 109.28h10.80v3.05h-10.80zM217.72 109.28h1.35v3.05h-1.35zM220.43 109.28h6.75v3.05h-6.75zM228.53 109.28h6.75v3.05h-6.75zM237.97 109.28h1.35v3.05h-1.35zM240.68 109.28h1.35v3.05h-1.35zM243.38 109.28h1.35v3.05h-1.35zM255.53 109.28h1.35v3.05h-1.35zM258.23 109.28h1.35v3.05h-1.35zM283.88 109.28h1.35v3.05h-1.35zM290.62 109.28h1.35v3.05h-1.35zM310.88 109.28h1.35v3.05h-1.35zM372.98 109.28h1.35v3.05h-1.35zM433.73 109.28h1.35v3.05h-1.35zM129.97 112.88h70.20v3.05h-70.20zM201.53 112.88h10.80v3.05h-10.80zM217.72 112.88h1.35v3.05h-1.35zM220.43 112.88h6.75v3.05h-6.75zM228.53 112.88h6.75v3.05h-6.75zM237.97 112.88h1.35v3.05h-1.35zM240.68 112.88h1.35v3.05h-1.35zM255.53 112.88h1.35v3.05h-1.35zM258.23 112.88h1.35v3.05h-1.35zM283.88 112.88h1.35v3.05h-1.35zM129.97 116.48h70.20v3.05h-70.20zM201.53 116.48h10.80v3.05h-10.80zM217.72 116.48h1.35v3.05h-1.35zM220.43 116.48h6.75v3.05h-6.75zM228.53 116.48h6.75v3.05h-6.75zM237.97 116.48h1.35v3.05h-1.35zM240.68 116.48h1.35v3.05h-1.35zM243.38 116.48h1.35v3.05h-1.35zM255.53 116.48h1.35v3.05h-1.35zM258.23 116.48h1.35v3.05h-1.35zM283.88 116.48h1.35v3.05h-1.35zM129.97 120.08h70.20v3.05h-70.20zM201.53 120.08h10.80v3.05h-10.80zM217.72 120.08h1.35v3.05h-1.35zM220.43 120.08h6.75v3.05h-6.75zM228.53 120.08h6.75v3.05h-6.75zM240.68 120.08h1.35v3.05h-1.35zM243.38 120.08h1.35v3.05h-1.35zM255.53 120.08h1.35v3.05h-1.35zM258.23 120.08h1.35v3.05h-1.35zM129.97 123.68h70.20v3.05h-70.20zM201.53 123.68h10.80v3.05h-10.80zM217.72 123.68h1.35v3.05h-1.35zM220.43 123.68h6.75v3.05h-6.75zM228.53 123.68h6.75v3.05h-6.75zM240.68 123.68h1.35v3.05h-1.35zM243.38 123.68h1.35v3.05h-1.35zM255.53 123.68h1.35v3.05h-1.35zM258.23 123.68h1.35v3.05h-1.35zM129.97 127.28h66.15v3.05h-66.15zM197.47 127.28h2.70v3.05h-2.70zM201.53 127.28h10.80v3.05h-10.80zM217.72 127.28h1.35v3.05h-1.35zM220.43 127.28h6.75v3.05h-6.75zM228.53 127.28h6.75v3.05h-6.75zM240.68 127.28h1.35v3.05h-1.35zM243.38 127.28h1.35v3.05h-1.35zM246.07 127.28h1.35v3.05h-1.35zM255.53 127.28h1.35v3.05h-1.35zM258.23 127.28h1.35v3.05h-1.35zM129.97 130.88h70.20v3.05h-70.20zM201.53 130.88h10.80v3.05h-10.80zM217.72 130.88h1.35v3.05h-1.35zM220.43 130.88h6.75v3.05h-6.75zM228.53 130.88h6.75v3.05h-6.75zM240.68 130.88h1.35v3.05h-1.35zM243.38 130.88h1.35v3.05h-1.35zM246.07 130.88h1.35v3.05h-1.35zM255.53 130.88h1.35v3.05h-1.35zM258.23 130.88h1.35v3.05h-1.35zM260.93 130.88h1.35v3.05h-1.35zM371.62 130.88h4.05v3.05h-4.05zM449.93 130.88h1.35v3.05h-1.35zM129.97 134.48h70.20v3.05h-70.20zM201.53 134.48h10.80v3.05h-10.80zM217.72 134.48h1.35v3.05h-1.35zM220.43 134.48h6.75v3.05h-6.75zM228.53 134.48h6.75v3.05h-6.75zM240.68 134.48h1.35v3.05h-1.35zM243.38 134.48h1.35v3.05h-1.35zM246.07 134.48h1.35v3.05h-1.35zM255.53 134.48h1.35v3.05h-1.35zM258.23 134.48h1.35v3.05h-1.35zM260.93 134.48h1.35v3.05h-1.35zM271.73 134.48h1.35v3.05h-1.35zM399.98 134.48h1.35v3.05h-1.35zM129.97 138.08h43.20v3.05h-43.20zM174.53 138.08h25.65v3.05h-25.65zM201.53 138.08h10.80v3.05h-10.80zM217.72 138.08h1.35v3.05h-1.35zM220.43 138.08h6.75v3.05h-6.75zM228.53 138.08h6.75v3.05h-6.75zM240.68 138.08h1.35v3.05h-1.35zM243.38 138.08h1.35v3.05h-1.35zM246.07 138.08h1.35v3.05h-1.35zM255.53 138.08h1.35v3.05h-1.35zM258.23 138.08h1.35v3.05h-1.35zM260.93 138.08h1.35v3.05h-1.35zM362.18 138.08h1.35v3.05h-1.35zM129.97 141.68h70.20v3.05h-70.20zM201.53 141.68h10.80v3.05h-10.80zM217.72 141.68h1.35v3.05h-1.35zM220.43 141.68h6.75v3.05h-6.75zM228.53 141.68h6.75v3.05h-6.75zM240.68 141.68h1.35v3.05h-1.35zM243.38 141.68h1.35v3.05h-1.35zM246.07 141.68h1.35v3.05h-1.35zM255.53 141.68h1.35v3.05h-1.35zM258.23 141.68h1.35v3.05h-1.35zM260.93 141.68h1.35v3.05h-1.35zM129.97 145.28h70.20v3.05h-70.20zM201.53 145.28h10.80v3.05h-10.80zM217.72 145.28h1.35v3.05h-1.35zM220.43 145.28h6.75v3.05h-6.75zM228.53 145.28h6.75v3.05h-6.75zM240.68 145.28h1.35v3.05h-1.35zM243.38 145.28h1.35v3.05h-1.35zM246.07 145.28h1.35v3.05h-1.35zM255.53 145.28h1.35v3.05h-1.35zM258.23 145.28h1.35v3.05h-1.35zM260.93 145.28h1.35v3.05h-1.35zM129.97 148.88h70.20v3.05h-70.20zM201.53 148.88h10.80v3.05h-10.80zM217.72 148.88h1.35v3.05h-1.35zM220.43 148.88h6.75v3.05h-6.75zM228.53 148.88h6.75v3.05h-6.75zM240.68 148.88h1.35v3.05h-1.35zM243.38 148.88h1.35v3.05h-1.35zM246.07 148.88h1.35v3.05h-1.35zM255.53 148.88h1.35v3.05h-1.35zM258.23 148.88h1.35v3.05h-1.35zM260.93 148.88h1.35v3.05h-1.35zM129.97 152.48h70.20v3.05h-70.20zM201.53 152.48h10.80v3.05h-10.80zM217.72 152.48h1.35v3.05h-1.35zM220.43 152.48h6.75v3.05h-6.75zM228.53 152.48h6.75v3.05h-6.75zM240.68 152.48h1.35v3.05h-1.35zM243.38 152.48h1.35v3.05h-1.35zM246.07 152.48h1.35v3.05h-1.35zM255.53 152.48h1.35v3.05h-1.35zM258.23 152.48h1.35v3.05h-1.35zM260.93 152.48h1.35v3.05h-1.35zM129.97 156.08h41.85v3.05h-41.85zM173.18 156.08h27.00v3.05h-27.00zM201.53 156.08h10.80v3.05h-10.80zM217.72 156.08h1.35v3.05h-1.35zM220.43 156.08h6.75v3.05h-6.75zM228.53 156.08h6.75v3.05h-6.75zM240.68 156.08h1.35v3.05h-1.35zM243.38 156.08h1.35v3.05h-1.35zM246.07 156.08h1.35v3.05h-1.35zM255.53 156.08h1.35v3.05h-1.35zM258.23 156.08h1.35v3.05h-1.35zM260.93 156.08h1.35v3.05h-1.35zM317.62 156.08h1.35v3.05h-1.35zM331.12 156.08h1.35v3.05h-1.35zM129.97 159.68h70.20v3.05h-70.20zM201.53 159.68h10.80v3.05h-10.80zM217.72 159.68h1.35v3.05h-1.35zM220.43 159.68h6.75v3.05h-6.75zM228.53 159.68h6.75v3.05h-6.75zM240.68 159.68h1.35v3.05h-1.35zM243.38 159.68h1.35v3.05h-1.35zM246.07 159.68h1.35v3.05h-1.35zM255.53 159.68h1.35v3.05h-1.35zM258.23 159.68h1.35v3.05h-1.35zM260.93 159.68h2.70v3.05h-2.70zM129.97 163.28h71.55v3.05h-71.55zM202.88 163.28h9.45v3.05h-9.45zM217.72 163.28h1.35v3.05h-1.35zM220.43 163.28h6.75v3.05h-6.75zM228.53 163.28h6.75v3.05h-6.75zM240.68 163.28h1.35v3.05h-1.35zM243.38 163.28h1.35v3.05h-1.35zM254.18 163.28h1.35v3.05h-1.35zM260.93 163.28h2.70v3.05h-2.70zM271.73 163.28h1.35v3.05h-1.35zM281.18 163.28h1.35v3.05h-1.35zM287.93 163.28h1.35v3.05h-1.35zM129.97 166.88h71.55v3.05h-71.55zM202.88 166.88h9.45v3.05h-9.45zM217.72 166.88h1.35v3.05h-1.35zM220.43 166.88h6.75v3.05h-6.75zM228.53 166.88h6.75v3.05h-6.75zM240.68 166.88h1.35v3.05h-1.35zM243.38 166.88h1.35v3.05h-1.35zM254.18 166.88h1.35v3.05h-1.35zM129.97 170.48h71.55v3.05h-71.55zM202.88 170.48h9.45v3.05h-9.45zM217.72 170.48h1.35v3.05h-1.35zM220.43 170.48h6.75v3.05h-6.75zM228.53 170.48h6.75v3.05h-6.75zM240.68 170.48h1.35v3.05h-1.35zM243.38 170.48h1.35v3.05h-1.35zM254.18 170.48h1.35v3.05h-1.35zM129.97 174.08h71.55v3.05h-71.55zM202.88 174.08h9.45v3.05h-9.45zM217.72 174.08h1.35v3.05h-1.35zM220.43 174.08h6.75v3.05h-6.75zM228.53 174.08h6.75v3.05h-6.75zM240.68 174.08h1.35v3.05h-1.35zM243.38 174.08h1.35v3.05h-1.35zM254.18 174.08h1.35v3.05h-1.35zM129.97 177.68h71.55v3.05h-71.55zM202.88 177.68h9.45v3.05h-9.45zM217.72 177.68h1.35v3.05h-1.35zM220.43 177.68h6.75v3.05h-6.75zM228.53 177.68h6.75v3.05h-6.75zM240.68 177.68h1.35v3.05h-1.35zM243.38 177.68h1.35v3.05h-1.35zM254.18 177.68h1.35v3.05h-1.35zM432.38 177.68h1.35v3.05h-1.35zM479.62 177.68h1.35v3.05h-1.35zM129.97 181.28h59.40v3.05h-59.40zM190.72 181.28h2.70v3.05h-2.70zM194.78 181.28h6.75v3.05h-6.75zM202.88 181.28h9.45v3.05h-9.45zM217.72 181.28h1.35v3.05h-1.35zM220.43 181.28h6.75v3.05h-6.75zM228.53 181.28h6.75v3.05h-6.75zM237.97 181.28h1.35v3.05h-1.35zM240.68 181.28h1.35v3.05h-1.35zM243.38 181.28h1.35v3.05h-1.35zM271.73 181.28h1.35v3.05h-1.35zM281.18 181.28h1.35v3.05h-1.35zM350.02 181.28h1.35v3.05h-1.35zM129.97 184.88h59.40v3.05h-59.40zM190.72 184.88h2.70v3.05h-2.70zM194.78 184.88h6.75v3.05h-6.75zM202.88 184.88h9.45v3.05h-9.45zM217.72 184.88h1.35v3.05h-1.35zM220.43 184.88h6.75v3.05h-6.75zM228.53 184.88h8.10v3.05h-8.10zM237.97 184.88h1.35v3.05h-1.35zM240.68 184.88h1.35v3.05h-1.35zM243.38 184.88h1.35v3.05h-1.35zM263.62 184.88h1.35v3.05h-1.35zM271.73 184.88h1.35v3.05h-1.35zM281.18 184.88h1.35v3.05h-1.35zM129.97 188.48h37.80v3.05h-37.80zM169.12 188.48h14.85v3.05h-14.85zM189.38 188.48h12.15v3.05h-12.15zM202.88 188.48h9.45v3.05h-9.45zM217.72 188.48h1.35v3.05h-1.35zM220.43 188.48h6.75v3.05h-6.75zM228.53 188.48h6.75v3.05h-6.75zM237.97 188.48h1.35v3.05h-1.35zM240.68 188.48h1.35v3.05h-1.35zM243.38 188.48h1.35v3.05h-1.35zM270.38 188.48h1.35v3.05h-1.35zM335.18 188.48h2.70v3.05h-2.70zM680.78 188.48h1.35v3.05h-1.35zM129.97 192.08h66.15v3.05h-66.15zM197.47 192.08h4.05v3.05h-4.05zM202.88 192.08h9.45v3.05h-9.45zM217.72 192.08h1.35v3.05h-1.35zM220.43 192.08h6.75v3.05h-6.75zM228.53 192.08h6.75v3.05h-6.75zM237.97 192.08h1.35v3.05h-1.35zM240.68 192.08h1.35v3.05h-1.35zM243.38 192.08h1.35v3.05h-1.35zM246.07 192.08h1.35v3.05h-1.35zM262.27 192.08h1.35v3.05h-1.35zM129.97 195.68h71.55v3.05h-71.55zM202.88 195.68h9.45v3.05h-9.45zM217.72 195.68h1.35v3.05h-1.35zM220.43 195.68h6.75v3.05h-6.75zM228.53 195.68h6.75v3.05h-6.75zM237.97 195.68h1.35v3.05h-1.35zM240.68 195.68h1.35v3.05h-1.35zM243.38 195.68h1.35v3.05h-1.35zM246.07 195.68h1.35v3.05h-1.35zM260.93 195.68h1.35v3.05h-1.35zM129.97 199.28h71.55v3.05h-71.55zM202.88 199.28h9.45v3.05h-9.45zM217.72 199.28h1.35v3.05h-1.35zM220.43 199.28h6.75v3.05h-6.75zM228.53 199.28h6.75v3.05h-6.75zM237.97 199.28h1.35v3.05h-1.35zM240.68 199.28h1.35v3.05h-1.35zM243.38 199.28h1.35v3.05h-1.35zM246.07 199.28h1.35v3.05h-1.35zM260.93 199.28h1.35v3.05h-1.35zM129.97 202.88h82.35v3.05h-82.35zM217.72 202.88h1.35v3.05h-1.35zM220.43 202.88h6.75v3.05h-6.75zM228.53 202.88h6.75v3.05h-6.75zM237.97 202.88h1.35v3.05h-1.35zM240.68 202.88h1.35v3.05h-1.35zM243.38 202.88h1.35v3.05h-1.35zM246.07 202.88h1.35v3.05h-1.35zM323.02 202.88h1.35v3.05h-1.35zM129.97 206.48h82.35v3.05h-82.35zM217.72 206.48h1.35v3.05h-1.35zM220.43 206.48h6.75v3.05h-6.75zM228.53 206.48h6.75v3.05h-6.75zM237.97 206.48h1.35v3.05h-1.35zM240.68 206.48h1.35v3.05h-1.35zM243.38 206.48h1.35v3.05h-1.35zM333.83 206.48h2.70v3.05h-2.70zM129.97 210.08h82.35v3.05h-82.35zM217.72 210.08h1.35v3.05h-1.35zM220.43 210.08h6.75v3.05h-6.75zM228.53 210.08h6.75v3.05h-6.75zM237.97 210.08h1.35v3.05h-1.35zM240.68 210.08h1.35v3.05h-1.35zM243.38 210.08h1.35v3.05h-1.35zM129.97 213.68h82.35v3.05h-82.35zM217.72 213.68h1.35v3.05h-1.35zM220.43 213.68h6.75v3.05h-6.75zM228.53 213.68h6.75v3.05h-6.75zM237.97 213.68h1.35v3.05h-1.35zM240.68 213.68h1.35v3.05h-1.35zM243.38 213.68h1.35v3.05h-1.35zM129.97 217.28h82.35v3.05h-82.35zM217.72 217.28h1.35v3.05h-1.35zM220.43 217.28h6.75v3.05h-6.75zM228.53 217.28h6.75v3.05h-6.75zM237.97 217.28h1.35v3.05h-1.35zM240.68 217.28h1.35v3.05h-1.35zM243.38 217.28h1.35v3.05h-1.35zM129.97 220.88h82.35v3.05h-82.35zM217.72 220.88h1.35v3.05h-1.35zM220.43 220.88h6.75v3.05h-6.75zM228.53 220.88h6.75v3.05h-6.75zM237.97 220.88h1.35v3.05h-1.35zM240.68 220.88h1.35v3.05h-1.35zM243.38 220.88h1.35v3.05h-1.35zM129.97 224.48h32.40v3.05h-32.40zM163.72 224.48h48.60v3.05h-48.60zM217.72 224.48h1.35v3.05h-1.35zM220.43 224.48h6.75v3.05h-6.75zM228.53 224.48h6.75v3.05h-6.75zM237.97 224.48h1.35v3.05h-1.35zM240.68 224.48h1.35v3.05h-1.35zM243.38 224.48h1.35v3.05h-1.35zM129.97 228.08h20.25v3.05h-20.25zM151.57 228.08h12.15v3.05h-12.15zM165.07 228.08h12.15v3.05h-12.15zM178.57 228.08h10.80v3.05h-10.80zM193.43 228.08h5.40v3.05h-5.40zM200.18 228.08h2.70v3.05h-2.70zM204.22 228.08h32.40v3.05h-32.40zM244.73 228.08h1.35v3.05h-1.35zM255.53 228.08h1.35v3.05h-1.35zM258.23 228.08h2.70v3.05h-2.70zM262.27 228.08h1.35v3.05h-1.35zM271.73 228.08h1.35v3.05h-1.35zM287.93 228.08h1.35v3.05h-1.35zM305.48 228.08h1.35v3.05h-1.35zM129.97 231.68h59.40v3.05h-59.40zM190.72 231.68h21.60v3.05h-21.60zM213.68 231.68h2.70v3.05h-2.70zM217.72 231.68h2.70v3.05h-2.70zM221.78 231.68h16.20v3.05h-16.20zM244.73 231.68h1.35v3.05h-1.35zM254.18 231.68h5.40v3.05h-5.40zM273.08 231.68h4.05v3.05h-4.05zM285.23 231.68h2.70v3.05h-2.70zM305.48 231.68h1.35v3.05h-1.35zM313.58 231.68h1.35v3.05h-1.35zM413.48 231.68h1.35v3.05h-1.35zM659.18 231.68h1.35v3.05h-1.35zM129.97 235.28h59.40v3.05h-59.40zM190.72 235.28h21.60v3.05h-21.60zM213.68 235.28h2.70v3.05h-2.70zM219.07 235.28h1.35v3.05h-1.35zM221.78 235.28h16.20v3.05h-16.20zM244.73 235.28h1.35v3.05h-1.35zM254.18 235.28h5.40v3.05h-5.40zM273.08 235.28h4.05v3.05h-4.05zM286.58 235.28h1.35v3.05h-1.35zM305.48 235.28h1.35v3.05h-1.35zM313.58 235.28h1.35v3.05h-1.35zM394.58 235.28h1.35v3.05h-1.35zM129.97 238.88h59.40v3.05h-59.40zM190.72 238.88h21.60v3.05h-21.60zM213.68 238.88h6.75v3.05h-6.75zM221.78 238.88h16.20v3.05h-16.20zM244.73 238.88h1.35v3.05h-1.35zM254.18 238.88h5.40v3.05h-5.40zM273.08 238.88h4.05v3.05h-4.05zM285.23 238.88h2.70v3.05h-2.70zM305.48 238.88h1.35v3.05h-1.35zM313.58 238.88h1.35v3.05h-1.35zM129.97 242.48h59.40v3.05h-59.40zM190.72 242.48h21.60v3.05h-21.60zM213.68 242.48h2.70v3.05h-2.70zM217.72 242.48h2.70v3.05h-2.70zM221.78 242.48h16.20v3.05h-16.20zM244.73 242.48h1.35v3.05h-1.35zM254.18 242.48h4.05v3.05h-4.05zM273.08 242.48h4.05v3.05h-4.05zM285.23 242.48h4.05v3.05h-4.05zM305.48 242.48h1.35v3.05h-1.35zM313.58 242.48h1.35v3.05h-1.35zM129.97 246.08h59.40v3.05h-59.40zM190.72 246.08h21.60v3.05h-21.60zM213.68 246.08h4.05v3.05h-4.05zM219.07 246.08h1.35v3.05h-1.35zM221.78 246.08h17.55v3.05h-17.55zM247.43 246.08h1.35v3.05h-1.35zM273.08 246.08h4.05v3.05h-4.05zM287.93 246.08h1.35v3.05h-1.35zM305.48 246.08h1.35v3.05h-1.35zM313.58 246.08h1.35v3.05h-1.35zM359.48 246.08h1.35v3.05h-1.35zM129.97 249.68h40.50v3.05h-40.50zM173.18 249.68h2.70v3.05h-2.70zM179.93 249.68h5.40v3.05h-5.40zM188.03 249.68h14.85v3.05h-14.85zM204.22 249.68h8.10v3.05h-8.10zM219.07 249.68h8.10v3.05h-8.10zM228.53 249.68h2.70v3.05h-2.70zM240.68 249.68h2.70v3.05h-2.70zM244.73 249.68h1.35v3.05h-1.35zM252.82 249.68h1.35v3.05h-1.35zM258.23 249.68h1.35v3.05h-1.35zM267.68 249.68h1.35v3.05h-1.35zM270.38 249.68h1.35v3.05h-1.35zM277.12 249.68h1.35v3.05h-1.35zM289.27 249.68h2.70v3.05h-2.70zM294.68 249.68h1.35v3.05h-1.35zM298.73 249.68h1.35v3.05h-1.35zM304.12 249.68h2.70v3.05h-2.70zM309.52 249.68h2.70v3.05h-2.70zM313.58 249.68h1.35v3.05h-1.35zM331.12 249.68h2.70v3.05h-2.70zM340.58 249.68h5.40v3.05h-5.40zM424.27 249.68h1.35v3.05h-1.35zM510.68 249.68h1.35v3.05h-1.35zM129.97 253.28h39.15v3.05h-39.15zM170.47 253.28h1.35v3.05h-1.35zM173.18 253.28h2.70v3.05h-2.70zM181.28 253.28h4.05v3.05h-4.05zM188.03 253.28h14.85v3.05h-14.85zM204.22 253.28h8.10v3.05h-8.10zM219.07 253.28h8.10v3.05h-8.10zM228.53 253.28h2.70v3.05h-2.70zM240.68 253.28h2.70v3.05h-2.70zM244.73 253.28h1.35v3.05h-1.35zM252.82 253.28h2.70v3.05h-2.70zM258.23 253.28h1.35v3.05h-1.35zM267.68 253.28h1.35v3.05h-1.35zM270.38 253.28h1.35v3.05h-1.35zM279.83 253.28h1.35v3.05h-1.35zM289.27 253.28h2.70v3.05h-2.70zM294.68 253.28h1.35v3.05h-1.35zM298.73 253.28h1.35v3.05h-1.35zM304.12 253.28h2.70v3.05h-2.70zM309.52 253.28h2.70v3.05h-2.70zM331.12 253.28h2.70v3.05h-2.70zM340.58 253.28h5.40v3.05h-5.40zM367.58 253.28h1.35v3.05h-1.35zM129.97 256.88h39.15v3.05h-39.15zM170.47 256.88h1.35v3.05h-1.35zM173.18 256.88h2.70v3.05h-2.70zM179.93 256.88h5.40v3.05h-5.40zM188.03 256.88h10.80v3.05h-10.80zM200.18 256.88h12.15v3.05h-12.15zM219.07 256.88h8.10v3.05h-8.10zM228.53 256.88h2.70v3.05h-2.70zM240.68 256.88h2.70v3.05h-2.70zM244.73 256.88h1.35v3.05h-1.35zM252.82 256.88h2.70v3.05h-2.70zM258.23 256.88h1.35v3.05h-1.35zM266.33 256.88h2.70v3.05h-2.70zM270.38 256.88h1.35v3.05h-1.35zM279.83 256.88h1.35v3.05h-1.35zM291.98 256.88h1.35v3.05h-1.35zM306.83 256.88h1.35v3.05h-1.35zM324.38 256.88h1.35v3.05h-1.35zM329.77 256.88h1.35v3.05h-1.35zM336.52 256.88h1.35v3.05h-1.35zM352.73 256.88h1.35v3.05h-1.35zM359.48 256.88h1.35v3.05h-1.35zM385.12 256.88h1.35v3.05h-1.35zM455.33 256.88h1.35v3.05h-1.35zM671.33 256.88h1.35v3.05h-1.35zM129.97 260.48h59.40v3.05h-59.40zM190.72 260.48h1.35v3.05h-1.35zM193.43 260.48h18.90v3.05h-18.90zM219.07 260.48h8.10v3.05h-8.10zM228.53 260.48h2.70v3.05h-2.70zM240.68 260.48h2.70v3.05h-2.70zM244.73 260.48h1.35v3.05h-1.35zM254.18 260.48h6.75v3.05h-6.75zM262.27 260.48h1.35v3.05h-1.35zM266.33 260.48h1.35v3.05h-1.35zM278.48 260.48h2.70v3.05h-2.70zM282.52 260.48h2.70v3.05h-2.70zM286.58 260.48h1.35v3.05h-1.35zM290.62 260.48h1.35v3.05h-1.35zM300.08 260.48h1.35v3.05h-1.35zM324.38 260.48h1.35v3.05h-1.35zM352.73 260.48h1.35v3.05h-1.35zM385.12 260.48h1.35v3.05h-1.35zM129.97 264.08h51.30v3.05h-51.30zM182.62 264.08h20.25v3.05h-20.25zM204.22 264.08h9.45v3.05h-9.45zM215.03 264.08h1.35v3.05h-1.35zM227.18 264.08h1.35v3.05h-1.35zM237.97 264.08h5.40v3.05h-5.40zM244.73 264.08h1.35v3.05h-1.35zM255.53 264.08h2.70v3.05h-2.70zM259.58 264.08h4.05v3.05h-4.05zM266.33 264.08h1.35v3.05h-1.35zM278.48 264.08h2.70v3.05h-2.70zM283.88 264.08h4.05v3.05h-4.05zM290.62 264.08h1.35v3.05h-1.35zM300.08 264.08h1.35v3.05h-1.35zM318.98 264.08h1.35v3.05h-1.35zM352.73 264.08h1.35v3.05h-1.35zM474.23 264.08h1.35v3.05h-1.35zM129.97 267.68h60.75v3.05h-60.75zM193.43 267.68h2.70v3.05h-2.70zM197.47 267.68h2.70v3.05h-2.70zM201.53 267.68h1.35v3.05h-1.35zM205.57 267.68h1.35v3.05h-1.35zM208.28 267.68h2.70v3.05h-2.70zM212.32 267.68h1.35v3.05h-1.35zM215.03 267.68h1.35v3.05h-1.35zM217.72 267.68h2.70v3.05h-2.70zM227.18 267.68h1.35v3.05h-1.35zM235.28 267.68h2.70v3.05h-2.70zM240.68 267.68h2.70v3.05h-2.70zM250.12 267.68h4.05v3.05h-4.05zM258.23 267.68h2.70v3.05h-2.70zM262.27 267.68h2.70v3.05h-2.70zM277.12 267.68h1.35v3.05h-1.35zM287.93 267.68h4.05v3.05h-4.05zM300.08 267.68h1.35v3.05h-1.35zM308.18 267.68h1.35v3.05h-1.35zM318.98 267.68h1.35v3.05h-1.35zM352.73 267.68h1.35v3.05h-1.35zM447.23 267.68h1.35v3.05h-1.35zM676.73 267.68h1.35v3.05h-1.35zM129.97 271.28h63.45v3.05h-63.45zM194.78 271.28h1.35v3.05h-1.35zM197.47 271.28h1.35v3.05h-1.35zM201.53 271.28h1.35v3.05h-1.35zM205.57 271.28h1.35v3.05h-1.35zM208.28 271.28h2.70v3.05h-2.70zM212.32 271.28h1.35v3.05h-1.35zM215.03 271.28h1.35v3.05h-1.35zM227.18 271.28h1.35v3.05h-1.35zM235.28 271.28h1.35v3.05h-1.35zM237.97 271.28h1.35v3.05h-1.35zM240.68 271.28h2.70v3.05h-2.70zM250.12 271.28h4.05v3.05h-4.05zM259.58 271.28h2.70v3.05h-2.70zM264.98 271.28h2.70v3.05h-2.70zM278.48 271.28h2.70v3.05h-2.70zM287.93 271.28h4.05v3.05h-4.05zM296.02 271.28h2.70v3.05h-2.70zM308.18 271.28h1.35v3.05h-1.35zM316.27 271.28h1.35v3.05h-1.35zM320.33 271.28h2.70v3.05h-2.70zM375.68 271.28h1.35v3.05h-1.35zM378.38 271.28h4.05v3.05h-4.05zM475.58 271.28h1.35v3.05h-1.35zM129.97 274.88h64.80v3.05h-64.80zM198.82 274.88h1.35v3.05h-1.35zM201.53 274.88h1.35v3.05h-1.35zM204.22 274.88h2.70v3.05h-2.70zM208.28 274.88h2.70v3.05h-2.70zM212.32 274.88h1.35v3.05h-1.35zM215.03 274.88h2.70v3.05h-2.70zM227.18 274.88h1.35v3.05h-1.35zM235.28 274.88h2.70v3.05h-2.70zM240.68 274.88h2.70v3.05h-2.70zM251.48 274.88h4.05v3.05h-4.05zM258.23 274.88h6.75v3.05h-6.75zM266.33 274.88h1.35v3.05h-1.35zM278.48 274.88h2.70v3.05h-2.70zM289.27 274.88h2.70v3.05h-2.70zM297.38 274.88h1.35v3.05h-1.35zM308.18 274.88h1.35v3.05h-1.35zM316.27 274.88h1.35v3.05h-1.35zM320.33 274.88h2.70v3.05h-2.70zM378.38 274.88h4.05v3.05h-4.05zM675.38 274.88h1.35v3.05h-1.35zM129.97 278.48h64.80v3.05h-64.80zM197.47 278.48h1.35v3.05h-1.35zM201.53 278.48h1.35v3.05h-1.35zM204.22 278.48h2.70v3.05h-2.70zM209.62 278.48h1.35v3.05h-1.35zM212.32 278.48h4.05v3.05h-4.05zM227.18 278.48h1.35v3.05h-1.35zM235.28 278.48h1.35v3.05h-1.35zM237.97 278.48h1.35v3.05h-1.35zM240.68 278.48h2.70v3.05h-2.70zM250.12 278.48h5.40v3.05h-5.40zM258.23 278.48h5.40v3.05h-5.40zM266.33 278.48h1.35v3.05h-1.35zM278.48 278.48h2.70v3.05h-2.70zM290.62 278.48h1.35v3.05h-1.35zM297.38 278.48h1.35v3.05h-1.35zM308.18 278.48h1.35v3.05h-1.35zM316.27 278.48h1.35v3.05h-1.35zM320.33 278.48h2.70v3.05h-2.70zM129.97 282.08h62.10v3.05h-62.10zM194.78 282.08h1.35v3.05h-1.35zM197.47 282.08h1.35v3.05h-1.35zM201.53 282.08h1.35v3.05h-1.35zM205.57 282.08h1.35v3.05h-1.35zM208.28 282.08h2.70v3.05h-2.70zM212.32 282.08h1.35v3.05h-1.35zM215.03 282.08h1.35v3.05h-1.35zM217.72 282.08h1.35v3.05h-1.35zM227.18 282.08h1.35v3.05h-1.35zM235.28 282.08h2.70v3.05h-2.70zM240.68 282.08h2.70v3.05h-2.70zM251.48 282.08h4.05v3.05h-4.05zM258.23 282.08h6.75v3.05h-6.75zM266.33 282.08h1.35v3.05h-1.35zM277.12 282.08h4.05v3.05h-4.05zM289.27 282.08h2.70v3.05h-2.70zM296.02 282.08h2.70v3.05h-2.70zM308.18 282.08h1.35v3.05h-1.35zM316.27 282.08h1.35v3.05h-1.35zM320.33 282.08h2.70v3.05h-2.70zM129.97 285.68h66.15v3.05h-66.15zM197.47 285.68h2.70v3.05h-2.70zM201.53 285.68h1.35v3.05h-1.35zM204.22 285.68h2.70v3.05h-2.70zM208.28 285.68h2.70v3.05h-2.70zM212.32 285.68h1.35v3.05h-1.35zM215.03 285.68h1.35v3.05h-1.35zM227.18 285.68h1.35v3.05h-1.35zM235.28 285.68h4.05v3.05h-4.05zM240.68 285.68h2.70v3.05h-2.70zM250.12 285.68h5.40v3.05h-5.40zM259.58 285.68h1.35v3.05h-1.35zM262.27 285.68h1.35v3.05h-1.35zM266.33 285.68h1.35v3.05h-1.35zM277.12 285.68h2.70v3.05h-2.70zM290.62 285.68h1.35v3.05h-1.35zM308.18 285.68h1.35v3.05h-1.35zM316.27 285.68h1.35v3.05h-1.35zM320.33 285.68h2.70v3.05h-2.70zM649.73 285.68h1.35v3.05h-1.35zM129.97 289.28h58.05v3.05h-58.05zM189.38 289.28h2.70v3.05h-2.70zM193.43 289.28h2.70v3.05h-2.70zM197.47 289.28h1.35v3.05h-1.35zM201.53 289.28h1.35v3.05h-1.35zM204.22 289.28h2.70v3.05h-2.70zM208.28 289.28h2.70v3.05h-2.70zM212.32 289.28h1.35v3.05h-1.35zM215.03 289.28h1.35v3.05h-1.35zM219.07 289.28h1.35v3.05h-1.35zM227.18 289.28h1.35v3.05h-1.35zM235.28 289.28h2.70v3.05h-2.70zM240.68 289.28h4.05v3.05h-4.05zM251.48 289.28h4.05v3.05h-4.05zM259.58 289.28h1.35v3.05h-1.35zM262.27 289.28h1.35v3.05h-1.35zM266.33 289.28h1.35v3.05h-1.35zM277.12 289.28h1.35v3.05h-1.35zM281.18 289.28h1.35v3.05h-1.35zM287.93 289.28h4.05v3.05h-4.05zM296.02 289.28h1.35v3.05h-1.35zM308.18 289.28h1.35v3.05h-1.35zM352.73 289.28h1.35v3.05h-1.35zM359.48 289.28h1.35v3.05h-1.35zM417.52 289.28h1.35v3.05h-1.35zM129.97 292.88h66.15v3.05h-66.15zM197.47 292.88h1.35v3.05h-1.35zM201.53 292.88h1.35v3.05h-1.35zM204.22 292.88h2.70v3.05h-2.70zM208.28 292.88h2.70v3.05h-2.70zM212.32 292.88h4.05v3.05h-4.05zM227.18 292.88h1.35v3.05h-1.35zM235.28 292.88h1.35v3.05h-1.35zM240.68 292.88h2.70v3.05h-2.70zM250.12 292.88h5.40v3.05h-5.40zM259.58 292.88h4.05v3.05h-4.05zM277.12 292.88h1.35v3.05h-1.35zM289.27 292.88h2.70v3.05h-2.70zM296.02 292.88h2.70v3.05h-2.70zM300.08 292.88h2.70v3.05h-2.70zM308.18 292.88h1.35v3.05h-1.35zM318.98 292.88h1.35v3.05h-1.35zM129.97 296.48h72.90v3.05h-72.90zM204.22 296.48h4.05v3.05h-4.05zM209.62 296.48h8.10v3.05h-8.10zM219.07 296.48h1.35v3.05h-1.35zM227.18 296.48h2.70v3.05h-2.70zM235.28 296.48h29.70v3.05h-29.70zM266.33 296.48h1.35v3.05h-1.35zM278.48 296.48h2.70v3.05h-2.70zM286.58 296.48h1.35v3.05h-1.35zM290.62 296.48h1.35v3.05h-1.35zM294.68 296.48h1.35v3.05h-1.35zM297.38 296.48h1.35v3.05h-1.35zM301.43 296.48h1.35v3.05h-1.35zM129.97 300.08h51.30v3.05h-51.30zM182.62 300.08h4.05v3.05h-4.05zM188.03 300.08h20.25v3.05h-20.25zM209.62 300.08h6.75v3.05h-6.75zM227.18 300.08h2.70v3.05h-2.70zM235.28 300.08h1.35v3.05h-1.35zM237.97 300.08h5.40v3.05h-5.40zM244.73 300.08h20.25v3.05h-20.25zM266.33 300.08h1.35v3.05h-1.35zM277.12 300.08h4.05v3.05h-4.05zM285.23 300.08h1.35v3.05h-1.35zM290.62 300.08h1.35v3.05h-1.35zM293.33 300.08h2.70v3.05h-2.70zM129.97 303.68h51.30v3.05h-51.30zM182.62 303.68h12.15v3.05h-12.15zM196.12 303.68h12.15v3.05h-12.15zM209.62 303.68h6.75v3.05h-6.75zM219.07 303.68h1.35v3.05h-1.35zM227.18 303.68h2.70v3.05h-2.70zM235.28 303.68h29.70v3.05h-29.70zM266.33 303.68h1.35v3.05h-1.35zM278.48 303.68h2.70v3.05h-2.70zM285.23 303.68h2.70v3.05h-2.70zM290.62 303.68h1.35v3.05h-1.35zM293.33 303.68h1.35v3.05h-1.35zM297.38 303.68h1.35v3.05h-1.35zM312.23 303.68h1.35v3.05h-1.35zM323.02 303.68h1.35v3.05h-1.35zM352.73 303.68h1.35v3.05h-1.35zM443.18 303.68h4.05v3.05h-4.05zM129.97 307.28h72.90v3.05h-72.90zM205.57 307.28h2.70v3.05h-2.70zM209.62 307.28h4.05v3.05h-4.05zM215.03 307.28h1.35v3.05h-1.35zM217.72 307.28h2.70v3.05h-2.70zM227.18 307.28h2.70v3.05h-2.70zM235.28 307.28h29.70v3.05h-29.70zM266.33 307.28h1.35v3.05h-1.35zM278.48 307.28h2.70v3.05h-2.70zM285.23 307.28h2.70v3.05h-2.70zM290.62 307.28h1.35v3.05h-1.35zM297.38 307.28h1.35v3.05h-1.35zM340.58 307.28h2.70v3.05h-2.70zM362.18 307.28h1.35v3.05h-1.35zM482.33 307.28h1.35v3.05h-1.35zM129.97 310.88h72.90v3.05h-72.90zM205.57 310.88h2.70v3.05h-2.70zM209.62 310.88h6.75v3.05h-6.75zM227.18 310.88h2.70v3.05h-2.70zM235.28 310.88h1.35v3.05h-1.35zM237.97 310.88h21.60v3.05h-21.60zM290.62 310.88h1.35v3.05h-1.35zM297.38 310.88h1.35v3.05h-1.35zM340.58 310.88h1.35v3.05h-1.35zM399.98 310.88h1.35v3.05h-1.35zM129.97 314.48h72.90v3.05h-72.90zM204.22 314.48h4.05v3.05h-4.05zM209.62 314.48h6.75v3.05h-6.75zM219.07 314.48h1.35v3.05h-1.35zM227.18 314.48h2.70v3.05h-2.70zM235.28 314.48h4.05v3.05h-4.05zM240.68 314.48h2.70v3.05h-2.70zM244.73 314.48h12.15v3.05h-12.15zM258.23 314.48h1.35v3.05h-1.35zM266.33 314.48h1.35v3.05h-1.35zM324.38 314.48h1.35v3.05h-1.35zM348.68 314.48h1.35v3.05h-1.35zM359.48 314.48h1.35v3.05h-1.35zM395.93 314.48h1.35v3.05h-1.35zM652.43 314.48h1.35v3.05h-1.35zM129.97 318.08h72.90v3.05h-72.90zM205.57 318.08h1.35v3.05h-1.35zM209.62 318.08h4.05v3.05h-4.05zM215.03 318.08h1.35v3.05h-1.35zM219.07 318.08h1.35v3.05h-1.35zM227.18 318.08h2.70v3.05h-2.70zM235.28 318.08h1.35v3.05h-1.35zM237.97 318.08h5.40v3.05h-5.40zM244.73 318.08h5.40v3.05h-5.40zM251.48 318.08h6.75v3.05h-6.75zM273.08 318.08h2.70v3.05h-2.70zM283.88 318.08h1.35v3.05h-1.35zM329.77 318.08h1.35v3.05h-1.35zM383.77 318.08h1.35v3.05h-1.35zM669.98 318.08h1.35v3.05h-1.35zM674.03 318.08h1.35v3.05h-1.35zM129.97 321.68h64.80v3.05h-64.80zM210.97 321.68h2.70v3.05h-2.70zM215.03 321.68h1.35v3.05h-1.35zM217.72 321.68h2.70v3.05h-2.70zM227.18 321.68h2.70v3.05h-2.70zM235.28 321.68h2.70v3.05h-2.70zM239.32 321.68h20.25v3.05h-20.25zM306.83 321.68h1.35v3.05h-1.35zM129.97 325.28h67.50v3.05h-67.50zM210.97 325.28h2.70v3.05h-2.70zM215.03 325.28h1.35v3.05h-1.35zM219.07 325.28h1.35v3.05h-1.35zM227.18 325.28h2.70v3.05h-2.70zM235.28 325.28h8.10v3.05h-8.10zM244.73 325.28h13.50v3.05h-13.50zM306.83 325.28h1.35v3.05h-1.35zM360.83 325.28h1.35v3.05h-1.35zM367.58 325.28h1.35v3.05h-1.35zM129.97 328.88h70.20v3.05h-70.20zM210.97 328.88h2.70v3.05h-2.70zM215.03 328.88h1.35v3.05h-1.35zM227.18 328.88h2.70v3.05h-2.70zM235.28 328.88h8.10v3.05h-8.10zM244.73 328.88h13.50v3.05h-13.50zM262.27 328.88h1.35v3.05h-1.35zM282.52 328.88h1.35v3.05h-1.35zM476.93 328.88h1.35v3.05h-1.35zM129.97 332.48h63.45v3.05h-63.45zM196.12 332.48h6.75v3.05h-6.75zM210.97 332.48h6.75v3.05h-6.75zM227.18 332.48h1.35v3.05h-1.35zM235.28 332.48h22.95v3.05h-22.95zM262.27 332.48h1.35v3.05h-1.35zM667.28 332.48h1.35v3.05h-1.35zM129.97 336.08h72.90v3.05h-72.90zM210.97 336.08h5.40v3.05h-5.40zM227.18 336.08h1.35v3.05h-1.35zM235.28 336.08h21.60v3.05h-21.60zM129.97 339.68h72.90v3.05h-72.90zM210.97 339.68h5.40v3.05h-5.40zM227.18 339.68h1.35v3.05h-1.35zM235.28 339.68h22.95v3.05h-22.95zM129.97 343.28h72.90v3.05h-72.90zM210.97 343.28h6.75v3.05h-6.75zM227.18 343.28h1.35v3.05h-1.35zM235.28 343.28h21.60v3.05h-21.60zM129.97 346.88h72.90v3.05h-72.90zM210.97 346.88h8.10v3.05h-8.10zM227.18 346.88h1.35v3.05h-1.35zM235.28 346.88h21.60v3.05h-21.60zM129.97 350.48h72.90v3.05h-72.90zM210.97 350.48h6.75v3.05h-6.75zM227.18 350.48h1.35v3.05h-1.35zM235.28 350.48h20.25v3.05h-20.25zM668.63 350.48h1.35v3.05h-1.35zM129.97 354.08h54.00v3.05h-54.00zM185.32 354.08h17.55v3.05h-17.55zM210.97 354.08h8.10v3.05h-8.10zM227.18 354.08h1.35v3.05h-1.35zM235.28 354.08h20.25v3.05h-20.25zM306.83 354.08h1.35v3.05h-1.35zM418.88 354.08h1.35v3.05h-1.35zM656.48 354.08h1.35v3.05h-1.35zM129.97 357.68h18.90v3.05h-18.90zM150.22 357.68h21.60v3.05h-21.60zM173.18 357.68h12.15v3.05h-12.15zM186.68 357.68h14.85v3.05h-14.85zM210.97 357.68h8.10v3.05h-8.10zM227.18 357.68h1.35v3.05h-1.35zM235.28 357.68h22.95v3.05h-22.95zM129.97 361.28h41.85v3.05h-41.85zM173.18 361.28h28.35v3.05h-28.35zM210.97 361.28h2.70v3.05h-2.70zM215.03 361.28h1.35v3.05h-1.35zM227.18 361.28h1.35v3.05h-1.35zM235.28 361.28h20.25v3.05h-20.25zM256.88 361.28h1.35v3.05h-1.35zM383.77 361.28h1.35v3.05h-1.35zM672.68 361.28h1.35v3.05h-1.35zM129.97 364.88h71.55v3.05h-71.55zM210.97 364.88h5.40v3.05h-5.40zM227.18 364.88h1.35v3.05h-1.35zM235.28 364.88h8.10v3.05h-8.10zM244.73 364.88h12.15v3.05h-12.15zM478.27 364.88h1.35v3.05h-1.35zM129.97 368.48h71.55v3.05h-71.55zM210.97 368.48h5.40v3.05h-5.40zM227.18 368.48h1.35v3.05h-1.35zM235.28 368.48h21.60v3.05h-21.60zM421.58 368.48h1.35v3.05h-1.35zM129.97 372.08h32.40v3.05h-32.40zM163.72 372.08h37.80v3.05h-37.80zM210.97 372.08h2.70v3.05h-2.70zM215.03 372.08h1.35v3.05h-1.35zM227.18 372.08h1.35v3.05h-1.35zM235.28 372.08h8.10v3.05h-8.10zM244.73 372.08h13.50v3.05h-13.50zM129.97 375.68h55.35v3.05h-55.35zM186.68 375.68h14.85v3.05h-14.85zM210.97 375.68h2.70v3.05h-2.70zM215.03 375.68h2.70v3.05h-2.70zM227.18 375.68h1.35v3.05h-1.35zM235.28 375.68h21.60v3.05h-21.60zM291.98 375.68h1.35v3.05h-1.35zM129.97 379.28h71.55v3.05h-71.55zM210.97 379.28h2.70v3.05h-2.70zM215.03 379.28h1.35v3.05h-1.35zM227.18 379.28h1.35v3.05h-1.35zM235.28 379.28h8.10v3.05h-8.10zM244.73 379.28h12.15v3.05h-12.15zM439.12 379.28h2.70v3.05h-2.70zM129.97 382.88h71.55v3.05h-71.55zM210.97 382.88h6.75v3.05h-6.75zM227.18 382.88h1.35v3.05h-1.35zM235.28 382.88h22.95v3.05h-22.95zM317.62 382.88h1.35v3.05h-1.35zM331.12 382.88h1.35v3.05h-1.35zM129.97 386.48h33.75v3.05h-33.75zM165.07 386.48h36.45v3.05h-36.45zM210.97 386.48h2.70v3.05h-2.70zM215.03 386.48h1.35v3.05h-1.35zM227.18 386.48h1.35v3.05h-1.35zM235.28 386.48h21.60v3.05h-21.60zM413.48 386.48h1.35v3.05h-1.35zM665.93 386.48h1.35v3.05h-1.35zM129.97 390.08h52.65v3.05h-52.65zM183.97 390.08h18.90v3.05h-18.90zM210.97 390.08h2.70v3.05h-2.70zM215.03 390.08h4.05v3.05h-4.05zM227.18 390.08h1.35v3.05h-1.35zM235.28 390.08h21.60v3.05h-21.60zM323.02 390.08h1.35v3.05h-1.35zM345.98 390.08h1.35v3.05h-1.35zM435.08 390.08h1.35v3.05h-1.35zM129.97 393.68h52.65v3.05h-52.65zM183.97 393.68h6.75v3.05h-6.75zM192.07 393.68h4.05v3.05h-4.05zM197.47 393.68h5.40v3.05h-5.40zM210.97 393.68h5.40v3.05h-5.40zM217.72 393.68h1.35v3.05h-1.35zM227.18 393.68h1.35v3.05h-1.35zM235.28 393.68h22.95v3.05h-22.95zM308.18 393.68h1.35v3.05h-1.35zM312.23 393.68h1.35v3.05h-1.35zM129.97 397.28h60.75v3.05h-60.75zM192.07 397.28h4.05v3.05h-4.05zM197.47 397.28h1.35v3.05h-1.35zM200.18 397.28h2.70v3.05h-2.70zM210.97 397.28h2.70v3.05h-2.70zM215.03 397.28h1.35v3.05h-1.35zM227.18 397.28h1.35v3.05h-1.35zM235.28 397.28h8.10v3.05h-8.10zM244.73 397.28h12.15v3.05h-12.15zM262.27 397.28h4.05v3.05h-4.05zM394.58 397.28h1.35v3.05h-1.35zM129.97 400.88h71.55v3.05h-71.55zM210.97 400.88h2.70v3.05h-2.70zM215.03 400.88h1.35v3.05h-1.35zM227.18 400.88h1.35v3.05h-1.35zM235.28 400.88h22.95v3.05h-22.95zM262.27 400.88h4.05v3.05h-4.05zM293.33 400.88h1.35v3.05h-1.35zM296.02 400.88h1.35v3.05h-1.35zM310.88 400.88h1.35v3.05h-1.35zM129.97 404.48h43.20v3.05h-43.20zM174.53 404.48h27.00v3.05h-27.00zM210.97 404.48h8.10v3.05h-8.10zM227.18 404.48h1.35v3.05h-1.35zM235.28 404.48h21.60v3.05h-21.60zM262.27 404.48h4.05v3.05h-4.05zM271.73 404.48h5.40v3.05h-5.40zM283.88 404.48h1.35v3.05h-1.35zM291.98 404.48h1.35v3.05h-1.35zM296.02 404.48h1.35v3.05h-1.35zM655.13 404.48h1.35v3.05h-1.35zM129.97 408.08h71.55v3.05h-71.55zM210.97 408.08h2.70v3.05h-2.70zM215.03 408.08h1.35v3.05h-1.35zM227.18 408.08h1.35v3.05h-1.35zM235.28 408.08h21.60v3.05h-21.60zM271.73 408.08h5.40v3.05h-5.40zM283.88 408.08h1.35v3.05h-1.35zM291.98 408.08h1.35v3.05h-1.35zM296.02 408.08h1.35v3.05h-1.35zM129.97 411.68h71.55v3.05h-71.55zM210.97 411.68h2.70v3.05h-2.70zM215.03 411.68h2.70v3.05h-2.70zM227.18 411.68h1.35v3.05h-1.35zM235.28 411.68h22.95v3.05h-22.95zM129.97 415.28h24.30v3.05h-24.30zM155.62 415.28h44.55v3.05h-44.55zM202.88 415.28h2.70v3.05h-2.70zM227.18 415.28h1.35v3.05h-1.35zM235.28 415.28h22.95v3.05h-22.95zM129.97 418.88h59.40v3.05h-59.40zM192.07 418.88h6.75v3.05h-6.75zM200.18 418.88h2.70v3.05h-2.70zM205.57 418.88h10.80v3.05h-10.80zM219.07 418.88h1.35v3.05h-1.35zM227.18 418.88h1.35v3.05h-1.35zM235.28 418.88h4.05v3.05h-4.05zM240.68 418.88h2.70v3.05h-2.70zM246.07 418.88h16.20v3.05h-16.20zM290.62 418.88h1.35v3.05h-1.35zM293.33 418.88h1.35v3.05h-1.35zM310.88 418.88h1.35v3.05h-1.35zM317.62 418.88h1.35v3.05h-1.35zM331.12 418.88h1.35v3.05h-1.35zM389.18 418.88h8.10v3.05h-8.10zM412.12 418.88h1.35v3.05h-1.35zM417.52 418.88h1.35v3.05h-1.35zM129.97 422.48h59.40v3.05h-59.40zM193.43 422.48h8.10v3.05h-8.10zM206.93 422.48h6.75v3.05h-6.75zM215.03 422.48h1.35v3.05h-1.35zM219.07 422.48h1.35v3.05h-1.35zM227.18 422.48h1.35v3.05h-1.35zM235.28 422.48h1.35v3.05h-1.35zM240.68 422.48h2.70v3.05h-2.70zM244.73 422.48h4.05v3.05h-4.05zM251.48 422.48h5.40v3.05h-5.40zM259.58 422.48h2.70v3.05h-2.70zM289.27 422.48h1.35v3.05h-1.35zM389.18 422.48h6.75v3.05h-6.75zM679.43 422.48h1.35v3.05h-1.35zM129.97 426.08h44.55v3.05h-44.55zM175.88 426.08h22.95v3.05h-22.95zM200.18 426.08h2.70v3.05h-2.70zM205.57 426.08h8.10v3.05h-8.10zM215.03 426.08h1.35v3.05h-1.35zM217.72 426.08h1.35v3.05h-1.35zM227.18 426.08h1.35v3.05h-1.35zM235.28 426.08h1.35v3.05h-1.35zM240.68 426.08h2.70v3.05h-2.70zM244.73 426.08h2.70v3.05h-2.70zM248.78 426.08h1.35v3.05h-1.35zM251.48 426.08h2.70v3.05h-2.70zM255.53 426.08h6.75v3.05h-6.75zM267.68 426.08h1.35v3.05h-1.35zM270.38 426.08h1.35v3.05h-1.35zM274.43 426.08h1.35v3.05h-1.35zM283.88 426.08h1.35v3.05h-1.35zM286.58 426.08h1.35v3.05h-1.35zM289.27 426.08h1.35v3.05h-1.35zM294.68 426.08h1.35v3.05h-1.35zM308.18 426.08h1.35v3.05h-1.35zM329.77 426.08h1.35v3.05h-1.35zM370.27 426.08h1.35v3.05h-1.35zM409.43 426.08h1.35v3.05h-1.35zM621.38 426.08h1.35v3.05h-1.35zM661.88 426.08h2.70v3.05h-2.70zM129.97 429.68h31.05v3.05h-31.05zM162.38 429.68h14.85v3.05h-14.85zM178.57 429.68h8.10v3.05h-8.10zM188.03 429.68h14.85v3.05h-14.85zM205.57 429.68h2.70v3.05h-2.70zM209.62 429.68h4.05v3.05h-4.05zM215.03 429.68h1.35v3.05h-1.35zM217.72 429.68h2.70v3.05h-2.70zM227.18 429.68h1.35v3.05h-1.35zM235.28 429.68h1.35v3.05h-1.35zM239.32 429.68h4.05v3.05h-4.05zM246.07 429.68h10.80v3.05h-10.80zM259.58 429.68h1.35v3.05h-1.35zM270.38 429.68h1.35v3.05h-1.35zM274.43 429.68h1.35v3.05h-1.35zM283.88 429.68h1.35v3.05h-1.35zM286.58 429.68h1.35v3.05h-1.35zM290.62 429.68h1.35v3.05h-1.35zM294.68 429.68h1.35v3.05h-1.35zM308.18 429.68h1.35v3.05h-1.35zM329.77 429.68h1.35v3.05h-1.35zM332.48 429.68h1.35v3.05h-1.35zM336.52 429.68h1.35v3.05h-1.35zM359.48 429.68h1.35v3.05h-1.35zM370.27 429.68h1.35v3.05h-1.35zM386.48 429.68h8.10v3.05h-8.10zM456.68 429.68h5.40v3.05h-5.40zM664.58 429.68h1.35v3.05h-1.35zM678.08 429.68h1.35v3.05h-1.35zM129.97 433.28h45.90v3.05h-45.90zM177.22 433.28h2.70v3.05h-2.70zM181.28 433.28h10.80v3.05h-10.80zM196.12 433.28h2.70v3.05h-2.70zM200.18 433.28h2.70v3.05h-2.70zM204.22 433.28h4.05v3.05h-4.05zM209.62 433.28h8.10v3.05h-8.10zM219.07 433.28h1.35v3.05h-1.35zM227.18 433.28h1.35v3.05h-1.35zM235.28 433.28h2.70v3.05h-2.70zM240.68 433.28h2.70v3.05h-2.70zM244.73 433.28h4.05v3.05h-4.05zM251.48 433.28h5.40v3.05h-5.40zM259.58 433.28h1.35v3.05h-1.35zM290.62 433.28h1.35v3.05h-1.35zM300.08 433.28h5.40v3.05h-5.40zM314.93 433.28h4.05v3.05h-4.05zM348.68 433.28h1.35v3.05h-1.35zM363.52 433.28h4.05v3.05h-4.05zM375.68 433.28h1.35v3.05h-1.35zM422.93 433.28h1.35v3.05h-1.35zM129.97 436.88h35.10v3.05h-35.10zM166.43 436.88h9.45v3.05h-9.45zM177.22 436.88h2.70v3.05h-2.70zM181.28 436.88h10.80v3.05h-10.80zM197.47 436.88h1.35v3.05h-1.35zM200.18 436.88h2.70v3.05h-2.70zM204.22 436.88h4.05v3.05h-4.05zM209.62 436.88h4.05v3.05h-4.05zM215.03 436.88h1.35v3.05h-1.35zM227.18 436.88h1.35v3.05h-1.35zM237.97 436.88h1.35v3.05h-1.35zM240.68 436.88h2.70v3.05h-2.70zM244.73 436.88h4.05v3.05h-4.05zM251.48 436.88h2.70v3.05h-2.70zM255.53 436.88h1.35v3.05h-1.35zM259.58 436.88h2.70v3.05h-2.70zM286.58 436.88h1.35v3.05h-1.35zM298.73 436.88h1.35v3.05h-1.35zM302.77 436.88h1.35v3.05h-1.35zM314.93 436.88h1.35v3.05h-1.35zM324.38 436.88h1.35v3.05h-1.35zM340.58 436.88h4.05v3.05h-4.05zM354.08 436.88h1.35v3.05h-1.35zM129.97 440.48h45.90v3.05h-45.90zM177.22 440.48h2.70v3.05h-2.70zM181.28 440.48h10.80v3.05h-10.80zM196.12 440.48h2.70v3.05h-2.70zM200.18 440.48h2.70v3.05h-2.70zM204.22 440.48h9.45v3.05h-9.45zM215.03 440.48h2.70v3.05h-2.70zM227.18 440.48h1.35v3.05h-1.35zM235.28 440.48h1.35v3.05h-1.35zM237.97 440.48h5.40v3.05h-5.40zM244.73 440.48h4.05v3.05h-4.05zM251.48 440.48h2.70v3.05h-2.70zM255.53 440.48h2.70v3.05h-2.70zM259.58 440.48h1.35v3.05h-1.35zM267.68 440.48h1.35v3.05h-1.35zM270.38 440.48h1.35v3.05h-1.35zM282.52 440.48h2.70v3.05h-2.70zM286.58 440.48h1.35v3.05h-1.35zM300.08 440.48h1.35v3.05h-1.35zM318.98 440.48h1.35v3.05h-1.35zM340.58 440.48h1.35v3.05h-1.35zM345.98 440.48h1.35v3.05h-1.35zM364.88 440.48h1.35v3.05h-1.35zM397.27 440.48h1.35v3.05h-1.35zM129.97 444.08h45.90v3.05h-45.90zM177.22 444.08h2.70v3.05h-2.70zM181.28 444.08h10.80v3.05h-10.80zM196.12 444.08h2.70v3.05h-2.70zM200.18 444.08h2.70v3.05h-2.70zM205.57 444.08h2.70v3.05h-2.70zM209.62 444.08h6.75v3.05h-6.75zM227.18 444.08h1.35v3.05h-1.35zM239.32 444.08h2.70v3.05h-2.70zM246.07 444.08h1.35v3.05h-1.35zM248.78 444.08h1.35v3.05h-1.35zM251.48 444.08h5.40v3.05h-5.40zM259.58 444.08h2.70v3.05h-2.70zM271.73 444.08h1.35v3.05h-1.35zM274.43 444.08h1.35v3.05h-1.35zM283.88 444.08h1.35v3.05h-1.35zM286.58 444.08h1.35v3.05h-1.35zM290.62 444.08h1.35v3.05h-1.35zM300.08 444.08h1.35v3.05h-1.35zM318.98 444.08h1.35v3.05h-1.35zM340.58 444.08h8.10v3.05h-8.10zM364.88 444.08h2.70v3.05h-2.70zM397.27 444.08h1.35v3.05h-1.35zM129.97 447.68h41.85v3.05h-41.85zM173.18 447.68h18.90v3.05h-18.90zM196.12 447.68h2.70v3.05h-2.70zM200.18 447.68h2.70v3.05h-2.70zM204.22 447.68h9.45v3.05h-9.45zM215.03 447.68h1.35v3.05h-1.35zM217.72 447.68h1.35v3.05h-1.35zM227.18 447.68h1.35v3.05h-1.35zM235.28 447.68h1.35v3.05h-1.35zM239.32 447.68h4.05v3.05h-4.05zM244.73 447.68h4.05v3.05h-4.05zM251.48 447.68h4.05v3.05h-4.05zM259.58 447.68h2.70v3.05h-2.70zM270.38 447.68h1.35v3.05h-1.35zM290.62 447.68h1.35v3.05h-1.35zM324.38 447.68h5.40v3.05h-5.40zM347.33 447.68h1.35v3.05h-1.35zM412.12 447.68h1.35v3.05h-1.35zM129.97 451.28h40.50v3.05h-40.50zM173.18 451.28h18.90v3.05h-18.90zM196.12 451.28h2.70v3.05h-2.70zM200.18 451.28h2.70v3.05h-2.70zM205.57 451.28h2.70v3.05h-2.70zM209.62 451.28h6.75v3.05h-6.75zM227.18 451.28h1.35v3.05h-1.35zM235.28 451.28h1.35v3.05h-1.35zM240.68 451.28h2.70v3.05h-2.70zM246.07 451.28h4.05v3.05h-4.05zM251.48 451.28h2.70v3.05h-2.70zM255.53 451.28h6.75v3.05h-6.75zM278.48 451.28h1.35v3.05h-1.35zM290.62 451.28h1.35v3.05h-1.35zM302.77 451.28h1.35v3.05h-1.35zM308.18 451.28h1.35v3.05h-1.35zM325.73 451.28h4.05v3.05h-4.05zM347.33 451.28h4.05v3.05h-4.05zM360.83 451.28h1.35v3.05h-1.35zM371.62 451.28h1.35v3.05h-1.35zM441.83 451.28h1.35v3.05h-1.35zM483.68 451.28h1.35v3.05h-1.35z" fill="#2268ab"/>
<line x1="129.30" y1="455.6" x2="129.30" y2="457.6" stroke="#888" stroke-width="0.4"/>
<text x="129.30" y="461.40" font-size="3.4" font-weight="normal" font-style="normal" text-anchor="middle" fill="#666" >0</text>
<line x1="196.78" y1="455.6" x2="196.78" y2="457.6" stroke="#888" stroke-width="0.4"/>
<text x="196.78" y="461.40" font-size="3.4" font-weight="normal" font-style="normal" text-anchor="middle" fill="#666" >50</text>
<line x1="264.25" y1="455.6" x2="264.25" y2="457.6" stroke="#888" stroke-width="0.4"/>
<text x="264.25" y="461.40" font-size="3.4" font-weight="normal" font-style="normal" text-anchor="middle" fill="#666" >100</text>
<line x1="331.73" y1="455.6" x2="331.73" y2="457.6" stroke="#888" stroke-width="0.4"/>
<text x="331.73" y="461.40" font-size="3.4" font-weight="normal" font-style="normal" text-anchor="middle" fill="#666" >150</text>
<line x1="399.20" y1="455.6" x2="399.20" y2="457.6" stroke="#888" stroke-width="0.4"/>
<text x="399.20" y="461.40" font-size="3.4" font-weight="normal" font-style="normal" text-anchor="middle" fill="#666" >200</text>
<line x1="466.68" y1="455.6" x2="466.68" y2="457.6" stroke="#888" stroke-width="0.4"/>
<text x="466.68" y="461.40" font-size="3.4" font-weight="normal" font-style="normal" text-anchor="middle" fill="#666" >250</text>
<line x1="534.15" y1="455.6" x2="534.15" y2="457.6" stroke="#888" stroke-width="0.4"/>
<text x="534.15" y="461.40" font-size="3.4" font-weight="normal" font-style="normal" text-anchor="middle" fill="#666" >300</text>
<line x1="601.62" y1="455.6" x2="601.62" y2="457.6" stroke="#888" stroke-width="0.4"/>
<text x="601.62" y="461.40" font-size="3.4" font-weight="normal" font-style="normal" text-anchor="middle" fill="#666" >350</text>
<line x1="669.10" y1="455.6" x2="669.10" y2="457.6" stroke="#888" stroke-width="0.4"/>
<text x="669.10" y="461.40" font-size="3.4" font-weight="normal" font-style="normal" text-anchor="middle" fill="#666" >400</text>
<path d="M64.90 35.20H111.30M106.40 38.80H111.30M106.40 42.40H111.30M106.40 38.80V42.40M87.70 40.60H106.40M104.40 46.00H111.30M104.40 49.60H111.30M104.40 46.00V49.60M97.30 47.80H104.40M102.40 53.20H111.30M108.00 56.80H111.30M109.30 60.40H111.30M109.30 64.00H111.30M109.30 60.40V64.00M108.00 62.20H109.30M108.00 56.80V62.20M102.40 59.50H108.00M102.40 53.20V59.50M97.30 56.35H102.40M97.30 47.80V56.35M92.40 52.07H97.30M108.79 67.60H111.30M108.79 71.20H111.30M108.79 67.60V71.20M106.75 69.40H108.79M106.75 74.80H111.30M106.75 69.40V74.80M103.65 72.10H106.75M108.50 78.40H111.30M108.50 82.00H111.30M108.50 78.40V82.00M106.00 80.20H108.50M107.81 85.60H111.30M107.81 89.20H111.30M107.81 85.60V89.20M106.00 87.40H107.81M106.00 80.20V87.40M103.65 83.80H106.00M103.65 72.10V83.80M99.50 77.95H103.65M108.85 92.80H111.30M108.85 96.40H111.30M108.85 92.80V96.40M105.40 94.60H108.85M105.40 100.00H111.30M105.40 94.60V100.00M103.80 97.30H105.40M109.12 103.60H111.30M109.12 107.20H111.30M109.12 103.60V107.20M107.67 105.40H109.12M107.67 110.80H111.30M107.67 105.40V110.80M105.48 108.10H107.67M108.56 114.40H111.30M108.56 118.00H111.30M108.56 114.40V118.00M107.27 116.20H108.56M107.27 121.60H111.30M107.27 116.20V121.60M105.48 118.90H107.27M105.48 108.10V118.90M103.80 113.50H105.48M103.80 97.30V113.50M99.50 105.40H103.80M99.50 77.95V105.40M97.20 91.67H99.50M109.06 125.20H111.30M109.06 128.80H111.30M109.06 125.20V128.80M108.03 127.00H109.06M108.03 132.40H111.30M108.03 127.00V132.40M106.79 129.70H108.03M109.89 136.00H111.30M109.89 139.60H111.30M109.89 136.00V139.60M109.68 137.80H109.89M109.68 143.20H111.30M109.68 137.80V143.20M109.12 140.50H109.68M109.12 146.80H111.30M109.12 140.50V146.80M108.32 143.65H109.12M109.35 150.40H111.30M109.35 154.00H111.30M109.35 150.40V154.00M108.32 152.20H109.35M108.32 143.65V152.20M106.79 147.93H108.32M106.79 129.70V147.93M105.42 138.81H106.79M109.60 157.60H111.30M109.60 161.20H111.30M109.60 157.60V161.20M109.29 159.40H109.60M109.29 164.80H111.30M109.29 159.40V164.80M108.60 162.10H109.29M109.36 168.40H111.30M109.36 172.00H111.30M109.36 168.40V172.00M108.60 170.20H109.36M108.60 162.10V170.20M107.29 166.15H108.60M110.01 175.60H111.30M110.01 179.20H111.30M110.01 175.60V179.20M109.83 177.40H110.01M109.83 182.80H111.30M109.83 177.40V182.80M109.37 180.10H109.83M109.37 186.40H111.30M109.37 180.10V186.40M108.59 183.25H109.37M109.71 190.00H111.30M109.71 193.60H111.30M109.71 190.00V193.60M109.30 191.80H109.71M109.30 197.20H111.30M109.30 191.80V197.20M108.59 194.50H109.30M108.59 183.25V194.50M107.29 188.88H108.59M107.29 166.15V188.88M105.42 177.51H107.29M105.42 138.81V177.51M98.50 158.16H105.42M109.29 200.80H111.30M109.29 204.40H111.30M109.29 200.80V204.40M108.43 202.60H109.29M108.43 208.00H111.30M108.43 202.60V208.00M107.00 205.30H108.43M107.00 211.60H111.30M107.00 205.30V211.60M104.05 208.45H107.00M109.65 215.20H111.30M109.65 218.80H111.30M109.65 215.20V218.80M109.32 217.00H109.65M109.32 222.40H111.30M109.32 217.00V222.40M108.47 219.70H109.32M109.39 226.00H111.30M109.39 229.60H111.30M109.39 226.00V229.60M108.47 227.80H109.39M108.47 219.70V227.80M107.06 223.75H108.47M109.52 233.20H111.30M109.52 236.80H111.30M109.52 233.20V236.80M109.02 235.00H109.52M109.02 240.40H111.30M109.02 235.00V240.40M107.99 237.70H109.02M107.99 244.00H111.30M107.99 237.70V244.00M107.06 240.85H107.99M107.06 223.75V240.85M104.05 232.30H107.06M104.05 208.45V232.30M99.50 220.38H104.05M108.53 247.60H111.30M108.53 251.20H111.30M108.53 247.60V251.20M106.27 249.40H108.53M106.27 254.80H111.30M106.27 249.40V254.80M102.64 252.10H106.27M106.27 258.40H111.30M106.27 262.00H111.30M106.27 258.40V262.00M102.64 260.20H106.27M102.64 252.10V260.20M99.50 256.15H102.64M99.50 220.38V256.15M98.50 238.26H99.50M98.50 158.16V238.26M97.20 198.21H98.50M97.20 91.67V198.21M93.50 144.94H97.20M108.08 265.60H111.30M108.08 269.20H111.30M108.08 265.60V269.20M105.91 267.40H108.08M108.29 272.80H111.30M108.29 276.40H111.30M108.29 272.80V276.40M105.91 274.60H108.29M105.91 267.40V274.60M101.19 271.00H105.91M109.34 280.00H111.30M109.34 283.60H111.30M109.34 280.00V283.60M107.88 281.80H109.34M107.88 287.20H111.30M107.88 281.80V287.20M106.31 284.50H107.88M109.59 290.80H111.30M109.59 294.40H111.30M109.59 290.80V294.40M109.11 292.60H109.59M109.11 298.00H111.30M109.11 292.60V298.00M108.36 295.30H109.11M108.36 301.60H111.30M108.36 295.30V301.60M106.31 298.45H108.36M106.31 284.50V298.45M101.19 291.48H106.31M101.19 271.00V291.48M97.50 281.24H101.19M109.21 305.20H111.30M109.21 308.80H111.30M109.21 305.20V308.80M108.08 307.00H109.21M108.08 312.40H111.30M108.08 307.00V312.40M106.96 309.70H108.08M109.22 316.00H111.30M109.22 319.60H111.30M109.22 316.00V319.60M108.42 317.80H109.22M108.42 323.20H111.30M108.42 317.80V323.20M106.96 320.50H108.42M106.96 309.70V320.50M105.62 315.10H106.96M108.22 326.80H111.30M108.22 330.40H111.30M108.22 326.80V330.40M105.62 328.60H108.22M105.62 315.10V328.60M97.50 321.85H105.62M97.50 281.24V321.85M96.30 301.54H97.50M109.56 334.00H111.30M109.56 337.60H111.30M109.56 334.00V337.60M109.30 335.80H109.56M109.30 341.20H111.30M109.30 335.80V341.20M108.52 338.50H109.30M109.42 344.80H111.30M109.42 348.40H111.30M109.42 344.80V348.40M108.52 346.60H109.42M108.52 338.50V346.60M107.24 342.55H108.52M109.23 352.00H111.30M109.23 355.60H111.30M109.23 352.00V355.60M107.24 353.80H109.23M107.24 342.55V353.80M102.85 348.18H107.24M109.28 359.20H111.30M109.28 362.80H111.30M109.28 359.20V362.80M108.11 361.00H109.28M108.11 366.40H111.30M108.11 361.00V366.40M106.77 363.70H108.11M108.29 370.00H111.30M108.29 373.60H111.30M108.29 370.00V373.60M106.77 371.80H108.29M106.77 363.70V371.80M102.85 367.75H106.77M102.85 348.18V367.75M97.00 357.96H102.85M107.43 377.20H111.30M107.43 380.80H111.30M107.43 377.20V380.80M104.95 379.00H107.43M104.95 384.40H111.30M104.95 379.00V384.40M103.37 381.70H104.95M106.46 388.00H111.30M106.46 391.60H111.30M106.46 388.00V391.60M103.37 389.80H106.46M103.37 381.70V389.80M100.93 385.75H103.37M108.73 395.20H111.30M108.73 398.80H111.30M108.73 395.20V398.80M104.17 397.00H108.73M108.57 402.40H111.30M108.57 406.00H111.30M108.57 402.40V406.00M106.93 404.20H108.57M108.66 409.60H111.30M108.66 413.20H111.30M108.66 409.60V413.20M106.93 411.40H108.66M106.93 404.20V411.40M104.17 407.80H106.93M104.17 397.00V407.80M100.93 402.40H104.17M100.93 385.75V402.40M97.00 394.07H100.93M97.00 357.96V394.07M96.30 376.02H97.00M96.30 301.54V376.02M94.90 338.78H96.30M108.49 416.80H111.30M108.49 420.40H111.30M108.49 416.80V420.40M103.15 418.60H108.49M108.99 424.00H111.30M108.99 427.60H111.30M108.99 424.00V427.60M107.47 425.80H108.99M107.47 431.20H111.30M107.47 425.80V431.20M103.15 428.50H107.47M103.15 418.60V428.50M97.70 423.55H103.15M108.72 434.80H111.30M108.72 438.40H111.30M108.72 434.80V438.40M104.70 436.60H108.72M104.70 442.00H111.30M104.70 436.60V442.00M101.83 439.30H104.70M108.90 445.60H111.30M108.90 449.20H111.30M108.90 445.60V449.20M104.06 447.40H108.90M104.06 452.80H111.30M104.06 447.40V452.80M101.83 450.10H104.06M101.83 439.30V450.10M97.70 444.70H101.83M97.70 423.55V444.70M94.90 434.12H97.70M94.90 338.78V434.12M93.50 386.45H94.90M93.50 144.94V386.45M92.40 265.70H93.50M92.40 52.07V265.70M87.70 164.40H92.40M87.70 40.60V164.40M64.90 102.50H87.70M64.90 35.20V102.50" stroke="#909090" stroke-width="0.6" fill="none"/>
<line x1="67.2" y1="32.35" x2="78" y2="32.35" stroke="#555" stroke-width="0.5"/>
<text x="75.80" y="31.00" font-size="2.6" font-weight="normal" font-style="normal" text-anchor="middle" fill="#555" >0</text>
<text x="59.40" y="483.40" font-size="9.05" font-weight="normal" font-style="normal" text-anchor="start" fill="#222" >Distribution of <tspan font-style="italic">ecaR</tspan></text>
<rect x="4.60" y="487.10" width="134.53" height="46.20" fill="#999999"/>
<rect x="139.07" y="487.10" width="19.77" height="46.20" fill="#e99a9a"/>
<rect x="158.80" y="487.10" width="9.02" height="46.20" fill="#c08a10"/>
<rect x="167.76" y="487.10" width="9.55" height="46.20" fill="#ffd86a"/>
<rect x="177.27" y="487.10" width="2.38" height="46.20" fill="#dcd4ec"/>
<rect x="179.60" y="487.10" width="3.28" height="46.20" fill="#6a3aa0"/>
<rect x="182.82" y="487.10" width="1.13" height="46.20" fill="#3a9a2a"/>
<line x1="4.60" y1="533.2" x2="4.60" y2="535.6" stroke="#333" stroke-width="0.6"/>
<text x="4.60" y="544.60" font-size="8.6" font-weight="normal" font-style="normal" text-anchor="middle" fill="#222" >0</text>
<line x1="49.43" y1="533.2" x2="49.43" y2="535.6" stroke="#333" stroke-width="0.6"/>
<text x="49.43" y="544.60" font-size="8.6" font-weight="normal" font-style="normal" text-anchor="middle" fill="#222" >25</text>
<line x1="94.25" y1="533.2" x2="94.25" y2="535.6" stroke="#333" stroke-width="0.6"/>
<text x="94.25" y="544.60" font-size="8.6" font-weight="normal" font-style="normal" text-anchor="middle" fill="#222" >50</text>
<line x1="139.07" y1="533.2" x2="139.07" y2="535.6" stroke="#333" stroke-width="0.6"/>
<text x="139.07" y="544.60" font-size="8.6" font-weight="normal" font-style="normal" text-anchor="middle" fill="#222" >75</text>
<line x1="183.90" y1="533.2" x2="183.90" y2="535.6" stroke="#333" stroke-width="0.6"/>
<text x="183.90" y="544.60" font-size="8.6" font-weight="normal" font-style="normal" text-anchor="middle" fill="#222" >100</text>
<text x="94.60" y="554.80" font-size="9.1" font-weight="normal" font-style="normal" text-anchor="middle" fill="#222" >Percentage (%)</text>
<rect x="189.30" y="476.60" width="7.20" height="7.40" fill="#999999"/>
<text x="198.00" y="483.10" font-size="7.8" font-weight="normal" font-style="normal" text-anchor="start" fill="#222" >Asia</text>
<rect x="189.30" y="485.20" width="7.20" height="7.40" fill="#e99a9a"/>
<text x="198.00" y="491.70" font-size="7.8" font-weight="normal" font-style="normal" text-anchor="start" fill="#222" >North/South America</text>
<rect x="189.30" y="493.80" width="7.20" height="7.40" fill="#c08a10"/>
<text x="198.00" y="500.30" font-size="7.8" font-weight="normal" font-style="normal" text-anchor="start" fill="#222" >Middle East</text>
<rect x="189.30" y="502.40" width="7.20" height="7.40" fill="#ffd86a"/>
<text x="198.00" y="508.90" font-size="7.8" font-weight="normal" font-style="normal" text-anchor="start" fill="#222" >Europe</text>
<rect x="189.30" y="511.00" width="7.20" height="7.40" fill="#dcd4ec"/>
<text x="198.00" y="517.50" font-size="7.8" font-weight="normal" font-style="normal" text-anchor="start" fill="#222" >Oceania</text>
<rect x="189.30" y="519.60" width="7.20" height="7.40" fill="#6a3aa0"/>
<text x="198.00" y="526.10" font-size="7.8" font-weight="normal" font-style="normal" text-anchor="start" fill="#222" >North/West Africa</text>
<rect x="189.30" y="528.20" width="7.20" height="7.40" fill="#3a9a2a"/>
<text x="198.00" y="534.70" font-size="7.8" font-weight="normal" font-style="normal" text-anchor="start" fill="#222" >Egypt</text>
<text x="364.50" y="482.30" font-size="9.05" font-weight="normal" font-style="normal" text-anchor="middle" fill="#222" >Distribution of <tspan font-style="italic">ecaR</tspan></text>
<rect x="275.60" y="486.20" width="141.46" height="46.80" fill="#2b83d0"/>
<rect x="417.01" y="486.20" width="12.58" height="46.80" fill="#cc0077"/>
<rect x="429.54" y="486.20" width="12.04" height="46.80" fill="#ec9438"/>
<rect x="441.53" y="486.20" width="3.27" height="46.80" fill="#555555"/>
<rect x="444.75" y="486.20" width="3.09" height="46.80" fill="#eea0a0"/>
<rect x="447.80" y="486.20" width="3.45" height="46.80" fill="#a8c8f0"/>
<rect x="451.20" y="486.20" width="1.12" height="46.80" fill="#aaaaaa"/>
<rect x="452.27" y="486.20" width="1.66" height="46.80" fill="#90e070"/>
<rect x="453.88" y="486.20" width="0.77" height="46.80" fill="#7a5408"/>
<line x1="275.60" y1="533.0" x2="275.60" y2="535.4" stroke="#333" stroke-width="0.6"/>
<text x="275.60" y="544.30" font-size="8.6" font-weight="normal" font-style="normal" text-anchor="middle" fill="#222" >0</text>
<line x1="320.35" y1="533.0" x2="320.35" y2="535.4" stroke="#333" stroke-width="0.6"/>
<text x="320.35" y="544.30" font-size="8.6" font-weight="normal" font-style="normal" text-anchor="middle" fill="#222" >25</text>
<line x1="365.10" y1="533.0" x2="365.10" y2="535.4" stroke="#333" stroke-width="0.6"/>
<text x="365.10" y="544.30" font-size="8.6" font-weight="normal" font-style="normal" text-anchor="middle" fill="#222" >50</text>
<line x1="409.85" y1="533.0" x2="409.85" y2="535.4" stroke="#333" stroke-width="0.6"/>
<text x="409.85" y="544.30" font-size="8.6" font-weight="normal" font-style="normal" text-anchor="middle" fill="#222" >75</text>
<line x1="454.60" y1="533.0" x2="454.60" y2="535.4" stroke="#333" stroke-width="0.6"/>
<text x="454.60" y="544.30" font-size="8.6" font-weight="normal" font-style="normal" text-anchor="middle" fill="#222" >100</text>
<text x="365.50" y="554.40" font-size="9.1" font-weight="normal" font-style="normal" text-anchor="middle" fill="#222" >Percentage (%)</text>
<rect x="464.00" y="474.20" width="7.20" height="7.40" fill="#2b83d0"/>
<text x="472.60" y="480.70" font-size="7.8" font-weight="normal" font-style="italic" text-anchor="start" fill="#222" >E. coli</text>
<rect x="464.00" y="482.85" width="7.20" height="7.40" fill="#cc0077"/>
<text x="472.60" y="489.35" font-size="7.8" font-weight="normal" font-style="italic" text-anchor="start" fill="#222" >Salmonella</text>
<rect x="464.00" y="491.50" width="7.20" height="7.40" fill="#ec9438"/>
<text x="472.60" y="498.00" font-size="7.8" font-weight="normal" font-style="italic" text-anchor="start" fill="#222" >Shigella</text>
<rect x="464.00" y="500.15" width="7.20" height="7.40" fill="#555555"/>
<text x="472.60" y="506.65" font-size="7.8" font-weight="normal" font-style="italic" text-anchor="start" fill="#222" >C. sakazakii</text>
<rect x="464.00" y="508.80" width="7.20" height="7.40" fill="#eea0a0"/>
<text x="472.60" y="515.30" font-size="7.8" font-weight="normal" font-style="italic" text-anchor="start" fill="#222" >C. braakii</text>
<rect x="464.00" y="517.45" width="7.20" height="7.40" fill="#a8c8f0"/>
<text x="472.60" y="523.95" font-size="7.8" font-weight="normal" font-style="italic" text-anchor="start" fill="#222" >K. pneumoniae</text>
<rect x="464.00" y="526.10" width="7.20" height="7.40" fill="#aaaaaa"/>
<text x="472.60" y="532.60" font-size="7.8" font-weight="normal" font-style="italic" text-anchor="start" fill="#222" >E. fergusonii</text>
<rect x="464.00" y="534.75" width="7.20" height="7.40" fill="#90e070"/>
<text x="472.60" y="541.25" font-size="7.8" font-weight="normal" font-style="italic" text-anchor="start" fill="#222" >Enterobacter</text>
<rect x="464.00" y="543.40" width="7.20" height="7.40" fill="#7a5408"/>
<text x="472.60" y="549.90" font-size="7.8" font-weight="normal" font-style="italic" text-anchor="start" fill="#222" >K. ascorbata</text>
<path d="M568.10 477.90A32.5 32.5 0 1 1 550.69 482.96L558.51 495.29A17.9 17.9 0 1 0 568.10 492.50z" fill="#8a8fc2" stroke="#fff" stroke-width="0.5"/>
<path d="M550.69 482.96A32.5 32.5 0 0 1 568.10 477.90L568.10 492.50A17.9 17.9 0 0 0 558.51 495.29z" fill="#9bcf2e" stroke="#fff" stroke-width="0.5"/>
<text x="561.60" y="490.40" font-size="7.9" font-weight="normal" font-style="normal" text-anchor="middle" fill="#222" >9%</text>
<text x="567.80" y="537.20" font-size="7.9" font-weight="normal" font-style="normal" text-anchor="middle" fill="#222" >91%</text>
<path d="M642.30 477.90A32.5 32.5 0 0 1 647.38 542.50L645.10 528.08A17.9 17.9 0 0 0 642.30 492.50z" fill="#ff8a1c" stroke="#fff" stroke-width="0.5"/>
<path d="M647.38 542.50A32.5 32.5 0 1 1 642.30 477.90L642.30 492.50A17.9 17.9 0 1 0 645.10 528.08z" fill="#a9bde4" stroke="#fff" stroke-width="0.5"/>
<text x="667.40" y="511.80" font-size="7.9" font-weight="normal" font-style="normal" text-anchor="middle" fill="#222" >47%</text>
<text x="617.40" y="513.80" font-size="7.9" font-weight="normal" font-style="normal" text-anchor="middle" fill="#222" >53%</text>
<rect x="546.00" y="550.20" width="7.30" height="7.60" fill="#8a8fc2"/>
<text x="555.90" y="555.70" font-size="7.7" font-weight="normal" font-style="normal" text-anchor="start" fill="#222" >plasmid</text>
<rect x="546.00" y="562.90" width="7.30" height="7.60" fill="#9bcf2e"/>
<text x="555.90" y="569.30" font-size="7.7" font-weight="normal" font-style="normal" text-anchor="start" fill="#222" >chromosome</text>
<rect x="619.40" y="550.20" width="7.40" height="7.60" fill="#ff8a1c"/>
<text x="629.0" y="555.8" font-size="7.7" fill="#222">w/ <tspan font-style="italic">mcr-1</tspan></text>
<rect x="619.40" y="562.90" width="7.40" height="7.60" fill="#a9bde4"/>
<text x="629.0" y="569.3" font-size="7.7" fill="#222">w/o <tspan font-style="italic">mcr-1</tspan></text>
</svg>
</body></html>
